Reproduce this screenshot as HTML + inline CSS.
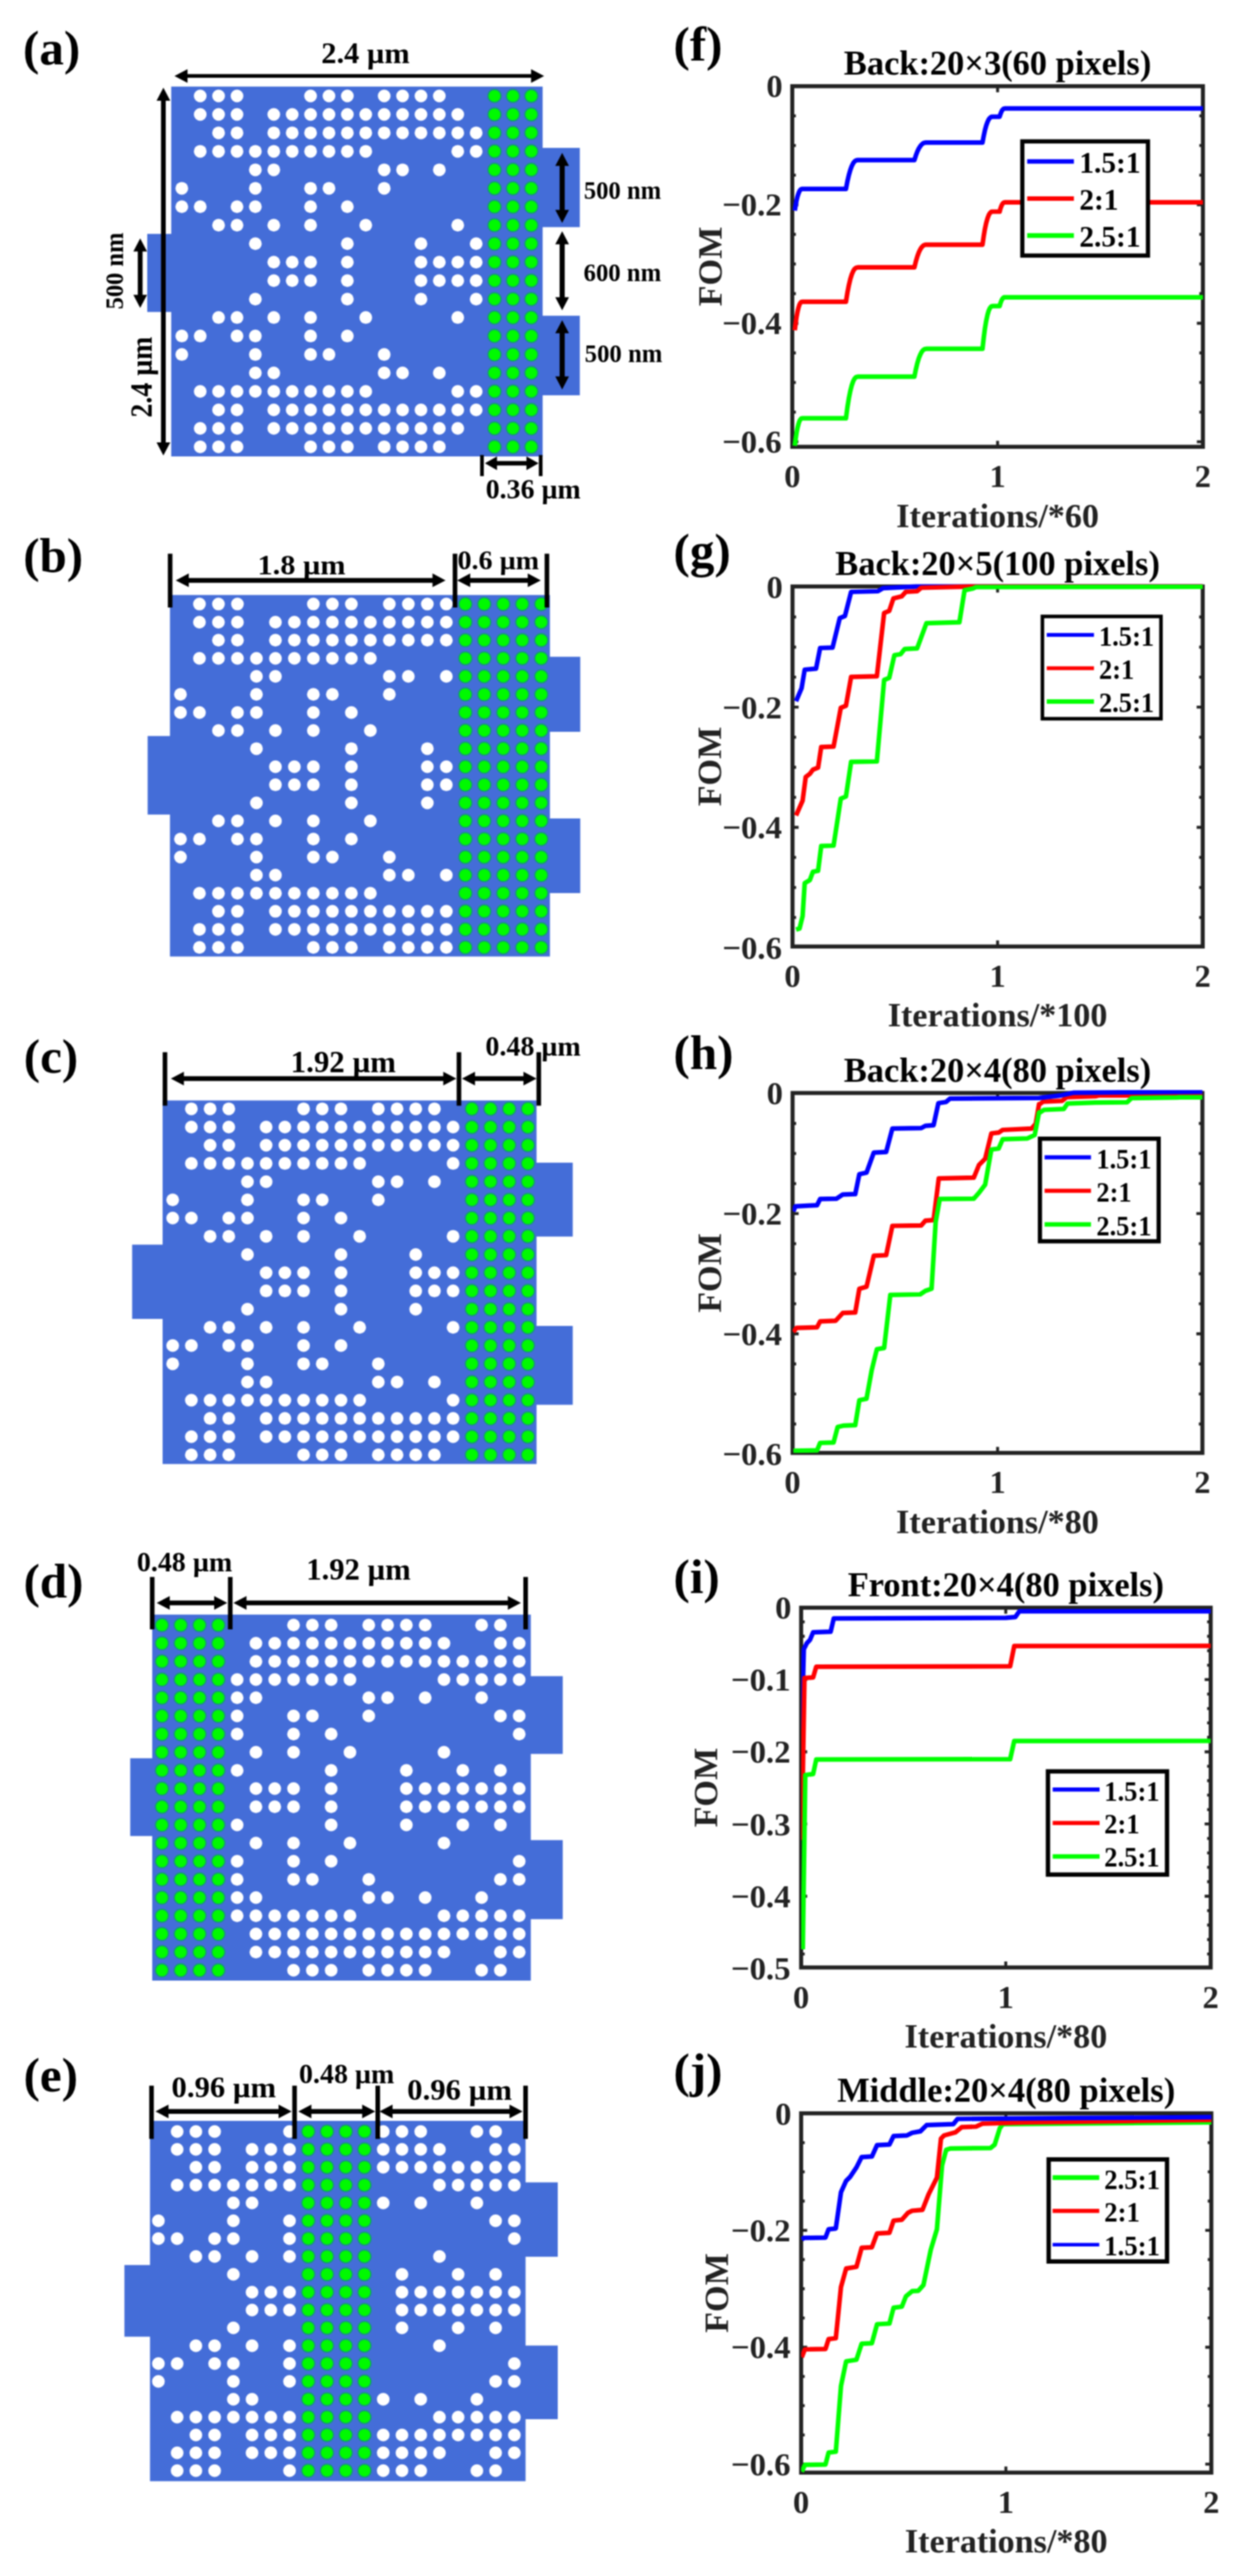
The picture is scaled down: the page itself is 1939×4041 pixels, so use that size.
<!DOCTYPE html>
<html><head><meta charset="utf-8"><title>Figure</title>
<style>
html,body{margin:0;padding:0;background:#fff;}
svg{display:block;filter:blur(0.8px);}
text{font-family:'Liberation Serif','Times New Roman',serif;font-weight:bold;}
</style></head><body>
<svg width="1939" height="4041" viewBox="0 0 1939 4041">
<rect width="1939" height="4041" fill="#fff"/>
<rect x="268.6" y="135.8" width="582.7" height="580.2" fill="#446DD8"/>
<rect x="231.0" y="366.9" width="40.0" height="122.5" fill="#446DD8"/>
<rect x="849.0" y="232.0" width="60.6" height="124.3" fill="#446DD8"/>
<rect x="849.0" y="495.3" width="60.6" height="124.8" fill="#446DD8"/>
<g fill="#fff"><circle cx="314.1" cy="150.5" r="10.0"/><circle cx="342.9" cy="150.5" r="10.0"/><circle cx="371.8" cy="150.5" r="10.0"/><circle cx="487.2" cy="150.5" r="10.0"/><circle cx="516.1" cy="150.5" r="10.0"/><circle cx="544.9" cy="150.5" r="10.0"/><circle cx="602.7" cy="150.5" r="10.0"/><circle cx="631.5" cy="150.5" r="10.0"/><circle cx="660.4" cy="150.5" r="10.0"/><circle cx="689.2" cy="150.5" r="10.0"/><circle cx="314.1" cy="179.5" r="10.0"/><circle cx="342.9" cy="179.5" r="10.0"/><circle cx="371.8" cy="179.5" r="10.0"/><circle cx="429.5" cy="179.5" r="10.0"/><circle cx="458.4" cy="179.5" r="10.0"/><circle cx="487.2" cy="179.5" r="10.0"/><circle cx="516.1" cy="179.5" r="10.0"/><circle cx="544.9" cy="179.5" r="10.0"/><circle cx="573.8" cy="179.5" r="10.0"/><circle cx="602.7" cy="179.5" r="10.0"/><circle cx="631.5" cy="179.5" r="10.0"/><circle cx="660.4" cy="179.5" r="10.0"/><circle cx="689.2" cy="179.5" r="10.0"/><circle cx="718.1" cy="179.5" r="10.0"/><circle cx="342.9" cy="208.4" r="10.0"/><circle cx="371.8" cy="208.4" r="10.0"/><circle cx="429.5" cy="208.4" r="10.0"/><circle cx="458.4" cy="208.4" r="10.0"/><circle cx="487.2" cy="208.4" r="10.0"/><circle cx="516.1" cy="208.4" r="10.0"/><circle cx="544.9" cy="208.4" r="10.0"/><circle cx="573.8" cy="208.4" r="10.0"/><circle cx="602.7" cy="208.4" r="10.0"/><circle cx="631.5" cy="208.4" r="10.0"/><circle cx="660.4" cy="208.4" r="10.0"/><circle cx="689.2" cy="208.4" r="10.0"/><circle cx="718.1" cy="208.4" r="10.0"/><circle cx="747.0" cy="208.4" r="10.0"/><circle cx="314.1" cy="237.4" r="10.0"/><circle cx="342.9" cy="237.4" r="10.0"/><circle cx="371.8" cy="237.4" r="10.0"/><circle cx="400.6" cy="237.4" r="10.0"/><circle cx="429.5" cy="237.4" r="10.0"/><circle cx="458.4" cy="237.4" r="10.0"/><circle cx="487.2" cy="237.4" r="10.0"/><circle cx="516.1" cy="237.4" r="10.0"/><circle cx="544.9" cy="237.4" r="10.0"/><circle cx="573.8" cy="237.4" r="10.0"/><circle cx="718.1" cy="237.4" r="10.0"/><circle cx="747.0" cy="237.4" r="10.0"/><circle cx="400.6" cy="266.4" r="10.0"/><circle cx="429.5" cy="266.4" r="10.0"/><circle cx="602.7" cy="266.4" r="10.0"/><circle cx="631.5" cy="266.4" r="10.0"/><circle cx="689.2" cy="266.4" r="10.0"/><circle cx="285.2" cy="295.4" r="10.0"/><circle cx="400.6" cy="295.4" r="10.0"/><circle cx="487.2" cy="295.4" r="10.0"/><circle cx="516.1" cy="295.4" r="10.0"/><circle cx="602.7" cy="295.4" r="10.0"/><circle cx="285.2" cy="324.3" r="10.0"/><circle cx="314.1" cy="324.3" r="10.0"/><circle cx="371.8" cy="324.3" r="10.0"/><circle cx="400.6" cy="324.3" r="10.0"/><circle cx="487.2" cy="324.3" r="10.0"/><circle cx="544.9" cy="324.3" r="10.0"/><circle cx="342.9" cy="353.3" r="10.0"/><circle cx="371.8" cy="353.3" r="10.0"/><circle cx="429.5" cy="353.3" r="10.0"/><circle cx="487.2" cy="353.3" r="10.0"/><circle cx="573.8" cy="353.3" r="10.0"/><circle cx="718.1" cy="353.3" r="10.0"/><circle cx="400.6" cy="382.3" r="10.0"/><circle cx="544.9" cy="382.3" r="10.0"/><circle cx="660.4" cy="382.3" r="10.0"/><circle cx="747.0" cy="382.3" r="10.0"/><circle cx="429.5" cy="411.2" r="10.0"/><circle cx="458.4" cy="411.2" r="10.0"/><circle cx="487.2" cy="411.2" r="10.0"/><circle cx="544.9" cy="411.2" r="10.0"/><circle cx="660.4" cy="411.2" r="10.0"/><circle cx="689.2" cy="411.2" r="10.0"/><circle cx="718.1" cy="411.2" r="10.0"/><circle cx="747.0" cy="411.2" r="10.0"/><circle cx="429.5" cy="440.2" r="10.0"/><circle cx="458.4" cy="440.2" r="10.0"/><circle cx="487.2" cy="440.2" r="10.0"/><circle cx="544.9" cy="440.2" r="10.0"/><circle cx="660.4" cy="440.2" r="10.0"/><circle cx="689.2" cy="440.2" r="10.0"/><circle cx="718.1" cy="440.2" r="10.0"/><circle cx="747.0" cy="440.2" r="10.0"/><circle cx="400.6" cy="469.2" r="10.0"/><circle cx="544.9" cy="469.2" r="10.0"/><circle cx="660.4" cy="469.2" r="10.0"/><circle cx="747.0" cy="469.2" r="10.0"/><circle cx="342.9" cy="498.1" r="10.0"/><circle cx="371.8" cy="498.1" r="10.0"/><circle cx="429.5" cy="498.1" r="10.0"/><circle cx="487.2" cy="498.1" r="10.0"/><circle cx="573.8" cy="498.1" r="10.0"/><circle cx="718.1" cy="498.1" r="10.0"/><circle cx="285.2" cy="527.1" r="10.0"/><circle cx="314.1" cy="527.1" r="10.0"/><circle cx="371.8" cy="527.1" r="10.0"/><circle cx="400.6" cy="527.1" r="10.0"/><circle cx="487.2" cy="527.1" r="10.0"/><circle cx="544.9" cy="527.1" r="10.0"/><circle cx="285.2" cy="556.1" r="10.0"/><circle cx="400.6" cy="556.1" r="10.0"/><circle cx="487.2" cy="556.1" r="10.0"/><circle cx="516.1" cy="556.1" r="10.0"/><circle cx="602.7" cy="556.1" r="10.0"/><circle cx="400.6" cy="585.0" r="10.0"/><circle cx="429.5" cy="585.0" r="10.0"/><circle cx="602.7" cy="585.0" r="10.0"/><circle cx="631.5" cy="585.0" r="10.0"/><circle cx="689.2" cy="585.0" r="10.0"/><circle cx="314.1" cy="614.0" r="10.0"/><circle cx="342.9" cy="614.0" r="10.0"/><circle cx="371.8" cy="614.0" r="10.0"/><circle cx="400.6" cy="614.0" r="10.0"/><circle cx="429.5" cy="614.0" r="10.0"/><circle cx="458.4" cy="614.0" r="10.0"/><circle cx="487.2" cy="614.0" r="10.0"/><circle cx="516.1" cy="614.0" r="10.0"/><circle cx="544.9" cy="614.0" r="10.0"/><circle cx="573.8" cy="614.0" r="10.0"/><circle cx="718.1" cy="614.0" r="10.0"/><circle cx="747.0" cy="614.0" r="10.0"/><circle cx="342.9" cy="643.0" r="10.0"/><circle cx="371.8" cy="643.0" r="10.0"/><circle cx="429.5" cy="643.0" r="10.0"/><circle cx="458.4" cy="643.0" r="10.0"/><circle cx="487.2" cy="643.0" r="10.0"/><circle cx="516.1" cy="643.0" r="10.0"/><circle cx="544.9" cy="643.0" r="10.0"/><circle cx="573.8" cy="643.0" r="10.0"/><circle cx="602.7" cy="643.0" r="10.0"/><circle cx="631.5" cy="643.0" r="10.0"/><circle cx="660.4" cy="643.0" r="10.0"/><circle cx="689.2" cy="643.0" r="10.0"/><circle cx="718.1" cy="643.0" r="10.0"/><circle cx="747.0" cy="643.0" r="10.0"/><circle cx="314.1" cy="672.0" r="10.0"/><circle cx="342.9" cy="672.0" r="10.0"/><circle cx="371.8" cy="672.0" r="10.0"/><circle cx="429.5" cy="672.0" r="10.0"/><circle cx="458.4" cy="672.0" r="10.0"/><circle cx="487.2" cy="672.0" r="10.0"/><circle cx="516.1" cy="672.0" r="10.0"/><circle cx="544.9" cy="672.0" r="10.0"/><circle cx="573.8" cy="672.0" r="10.0"/><circle cx="602.7" cy="672.0" r="10.0"/><circle cx="631.5" cy="672.0" r="10.0"/><circle cx="660.4" cy="672.0" r="10.0"/><circle cx="689.2" cy="672.0" r="10.0"/><circle cx="718.1" cy="672.0" r="10.0"/><circle cx="314.1" cy="700.9" r="10.0"/><circle cx="342.9" cy="700.9" r="10.0"/><circle cx="371.8" cy="700.9" r="10.0"/><circle cx="487.2" cy="700.9" r="10.0"/><circle cx="516.1" cy="700.9" r="10.0"/><circle cx="544.9" cy="700.9" r="10.0"/><circle cx="602.7" cy="700.9" r="10.0"/><circle cx="631.5" cy="700.9" r="10.0"/><circle cx="660.4" cy="700.9" r="10.0"/><circle cx="689.2" cy="700.9" r="10.0"/></g>
<g fill="#00FA00" stroke="#17947F" stroke-width="2"><circle cx="775.8" cy="150.5" r="10.3"/><circle cx="804.7" cy="150.5" r="10.3"/><circle cx="833.5" cy="150.5" r="10.3"/><circle cx="775.8" cy="179.5" r="10.3"/><circle cx="804.7" cy="179.5" r="10.3"/><circle cx="833.5" cy="179.5" r="10.3"/><circle cx="775.8" cy="208.4" r="10.3"/><circle cx="804.7" cy="208.4" r="10.3"/><circle cx="833.5" cy="208.4" r="10.3"/><circle cx="775.8" cy="237.4" r="10.3"/><circle cx="804.7" cy="237.4" r="10.3"/><circle cx="833.5" cy="237.4" r="10.3"/><circle cx="775.8" cy="266.4" r="10.3"/><circle cx="804.7" cy="266.4" r="10.3"/><circle cx="833.5" cy="266.4" r="10.3"/><circle cx="775.8" cy="295.4" r="10.3"/><circle cx="804.7" cy="295.4" r="10.3"/><circle cx="833.5" cy="295.4" r="10.3"/><circle cx="775.8" cy="324.3" r="10.3"/><circle cx="804.7" cy="324.3" r="10.3"/><circle cx="833.5" cy="324.3" r="10.3"/><circle cx="775.8" cy="353.3" r="10.3"/><circle cx="804.7" cy="353.3" r="10.3"/><circle cx="833.5" cy="353.3" r="10.3"/><circle cx="775.8" cy="382.3" r="10.3"/><circle cx="804.7" cy="382.3" r="10.3"/><circle cx="833.5" cy="382.3" r="10.3"/><circle cx="775.8" cy="411.2" r="10.3"/><circle cx="804.7" cy="411.2" r="10.3"/><circle cx="833.5" cy="411.2" r="10.3"/><circle cx="775.8" cy="440.2" r="10.3"/><circle cx="804.7" cy="440.2" r="10.3"/><circle cx="833.5" cy="440.2" r="10.3"/><circle cx="775.8" cy="469.2" r="10.3"/><circle cx="804.7" cy="469.2" r="10.3"/><circle cx="833.5" cy="469.2" r="10.3"/><circle cx="775.8" cy="498.1" r="10.3"/><circle cx="804.7" cy="498.1" r="10.3"/><circle cx="833.5" cy="498.1" r="10.3"/><circle cx="775.8" cy="527.1" r="10.3"/><circle cx="804.7" cy="527.1" r="10.3"/><circle cx="833.5" cy="527.1" r="10.3"/><circle cx="775.8" cy="556.1" r="10.3"/><circle cx="804.7" cy="556.1" r="10.3"/><circle cx="833.5" cy="556.1" r="10.3"/><circle cx="775.8" cy="585.0" r="10.3"/><circle cx="804.7" cy="585.0" r="10.3"/><circle cx="833.5" cy="585.0" r="10.3"/><circle cx="775.8" cy="614.0" r="10.3"/><circle cx="804.7" cy="614.0" r="10.3"/><circle cx="833.5" cy="614.0" r="10.3"/><circle cx="775.8" cy="643.0" r="10.3"/><circle cx="804.7" cy="643.0" r="10.3"/><circle cx="833.5" cy="643.0" r="10.3"/><circle cx="775.8" cy="672.0" r="10.3"/><circle cx="804.7" cy="672.0" r="10.3"/><circle cx="833.5" cy="672.0" r="10.3"/><circle cx="775.8" cy="700.9" r="10.3"/><circle cx="804.7" cy="700.9" r="10.3"/><circle cx="833.5" cy="700.9" r="10.3"/></g>
<text x="36.0" y="100.6" font-size="77.0">(a)</text>
<line x1="292.1" y1="119.2" x2="835.1" y2="119.2" stroke="#000" stroke-width="5.8"/>
<polygon points="273.7,119.2 294.2,129.9 294.2,108.5" fill="#000"/>
<polygon points="853.6,119.2 833.1,129.9 833.1,108.5" fill="#000"/>
<text x="504.1" y="98.5" font-size="47.0" textLength="138.7" lengthAdjust="spacingAndGlyphs">2.4 µm</text>
<line x1="256.3" y1="155.9" x2="256.3" y2="696.1" stroke="#000" stroke-width="7.4"/>
<polygon points="256.3,137.5 245.6,158.0 267.1,158.0" fill="#000"/>
<polygon points="256.3,714.6 245.6,694.1 267.1,694.1" fill="#000"/>
<line x1="219.9" y1="392.4" x2="219.9" y2="464.4" stroke="#000" stroke-width="7.5"/>
<polygon points="219.9,374.0 209.2,394.5 230.7,394.5" fill="#000"/>
<polygon points="219.9,482.9 209.2,462.4 230.7,462.4" fill="#000"/>
<text x="192.9" y="485.3" font-size="41.0" textLength="120.5" lengthAdjust="spacingAndGlyphs" transform="rotate(-90 192.9 485.3)">500 nm</text>
<text x="238.3" y="655.0" font-size="48.0" textLength="126.8" lengthAdjust="spacingAndGlyphs" transform="rotate(-90 238.3 655.0)">2.4 µm</text>
<line x1="881.9" y1="258.2" x2="881.9" y2="331.4" stroke="#000" stroke-width="8"/>
<polygon points="881.9,239.8 871.1,260.3 892.6,260.3" fill="#000"/>
<polygon points="881.9,349.8 871.1,329.3 892.6,329.3" fill="#000"/>
<line x1="881.9" y1="381.2" x2="881.9" y2="468.2" stroke="#000" stroke-width="8"/>
<polygon points="881.9,362.8 871.1,383.3 892.6,383.3" fill="#000"/>
<polygon points="881.9,486.7 871.1,466.2 892.6,466.2" fill="#000"/>
<line x1="881.9" y1="520.8" x2="881.9" y2="592.5" stroke="#000" stroke-width="8"/>
<polygon points="881.9,502.3 871.1,522.8 892.6,522.8" fill="#000"/>
<polygon points="881.9,611.0 871.1,590.5 892.6,590.5" fill="#000"/>
<text x="916.0" y="311.8" font-size="39.5" textLength="121.2" lengthAdjust="spacingAndGlyphs">500 nm</text>
<text x="915.5" y="440.9" font-size="39.5" textLength="121.7" lengthAdjust="spacingAndGlyphs">600 nm</text>
<text x="917.3" y="568.3" font-size="39.5" textLength="121.7" lengthAdjust="spacingAndGlyphs">500 nm</text>
<line x1="756.1" y1="713.8" x2="756.1" y2="746.9" stroke="#000" stroke-width="5.8"/>
<line x1="848.2" y1="713.8" x2="848.2" y2="746.9" stroke="#000" stroke-width="5.8"/>
<line x1="777.8" y1="726.7" x2="827.8" y2="726.7" stroke="#000" stroke-width="7"/>
<polygon points="760.7,726.7 779.7,737.5 779.7,716.0" fill="#000"/>
<polygon points="844.9,726.7 825.9,737.5 825.9,716.0" fill="#000"/>
<text x="762.0" y="781.9" font-size="44.0" textLength="149.0" lengthAdjust="spacingAndGlyphs">0.36 µm</text>
<rect x="266.6" y="933.4" width="596.1" height="567.1" fill="#446DD8"/>
<rect x="231.6" y="1154.6" width="37.4" height="123.2" fill="#446DD8"/>
<rect x="860.0" y="1030.3" width="50.3" height="117.7" fill="#446DD8"/>
<rect x="860.0" y="1283.9" width="50.3" height="117.1" fill="#446DD8"/>
<g fill="#fff"><circle cx="312.9" cy="947.6" r="10.0"/><circle cx="342.7" cy="947.6" r="10.0"/><circle cx="372.5" cy="947.6" r="10.0"/><circle cx="491.6" cy="947.6" r="10.0"/><circle cx="521.4" cy="947.6" r="10.0"/><circle cx="551.2" cy="947.6" r="10.0"/><circle cx="610.8" cy="947.6" r="10.0"/><circle cx="640.6" cy="947.6" r="10.0"/><circle cx="670.4" cy="947.6" r="10.0"/><circle cx="700.2" cy="947.6" r="10.0"/><circle cx="312.9" cy="976.0" r="10.0"/><circle cx="342.7" cy="976.0" r="10.0"/><circle cx="372.5" cy="976.0" r="10.0"/><circle cx="432.1" cy="976.0" r="10.0"/><circle cx="461.8" cy="976.0" r="10.0"/><circle cx="491.6" cy="976.0" r="10.0"/><circle cx="521.4" cy="976.0" r="10.0"/><circle cx="551.2" cy="976.0" r="10.0"/><circle cx="581.0" cy="976.0" r="10.0"/><circle cx="610.8" cy="976.0" r="10.0"/><circle cx="640.6" cy="976.0" r="10.0"/><circle cx="670.4" cy="976.0" r="10.0"/><circle cx="700.2" cy="976.0" r="10.0"/><circle cx="342.7" cy="1004.3" r="10.0"/><circle cx="372.5" cy="1004.3" r="10.0"/><circle cx="432.1" cy="1004.3" r="10.0"/><circle cx="461.8" cy="1004.3" r="10.0"/><circle cx="491.6" cy="1004.3" r="10.0"/><circle cx="521.4" cy="1004.3" r="10.0"/><circle cx="551.2" cy="1004.3" r="10.0"/><circle cx="581.0" cy="1004.3" r="10.0"/><circle cx="610.8" cy="1004.3" r="10.0"/><circle cx="640.6" cy="1004.3" r="10.0"/><circle cx="670.4" cy="1004.3" r="10.0"/><circle cx="700.2" cy="1004.3" r="10.0"/><circle cx="312.9" cy="1032.7" r="10.0"/><circle cx="342.7" cy="1032.7" r="10.0"/><circle cx="372.5" cy="1032.7" r="10.0"/><circle cx="402.3" cy="1032.7" r="10.0"/><circle cx="432.1" cy="1032.7" r="10.0"/><circle cx="461.8" cy="1032.7" r="10.0"/><circle cx="491.6" cy="1032.7" r="10.0"/><circle cx="521.4" cy="1032.7" r="10.0"/><circle cx="551.2" cy="1032.7" r="10.0"/><circle cx="581.0" cy="1032.7" r="10.0"/><circle cx="402.3" cy="1061.0" r="10.0"/><circle cx="432.1" cy="1061.0" r="10.0"/><circle cx="610.8" cy="1061.0" r="10.0"/><circle cx="640.6" cy="1061.0" r="10.0"/><circle cx="700.2" cy="1061.0" r="10.0"/><circle cx="283.1" cy="1089.3" r="10.0"/><circle cx="402.3" cy="1089.3" r="10.0"/><circle cx="491.6" cy="1089.3" r="10.0"/><circle cx="521.4" cy="1089.3" r="10.0"/><circle cx="610.8" cy="1089.3" r="10.0"/><circle cx="283.1" cy="1117.7" r="10.0"/><circle cx="312.9" cy="1117.7" r="10.0"/><circle cx="372.5" cy="1117.7" r="10.0"/><circle cx="402.3" cy="1117.7" r="10.0"/><circle cx="491.6" cy="1117.7" r="10.0"/><circle cx="551.2" cy="1117.7" r="10.0"/><circle cx="342.7" cy="1146.0" r="10.0"/><circle cx="372.5" cy="1146.0" r="10.0"/><circle cx="432.1" cy="1146.0" r="10.0"/><circle cx="491.6" cy="1146.0" r="10.0"/><circle cx="581.0" cy="1146.0" r="10.0"/><circle cx="402.3" cy="1174.4" r="10.0"/><circle cx="551.2" cy="1174.4" r="10.0"/><circle cx="670.4" cy="1174.4" r="10.0"/><circle cx="432.1" cy="1202.8" r="10.0"/><circle cx="461.8" cy="1202.8" r="10.0"/><circle cx="491.6" cy="1202.8" r="10.0"/><circle cx="551.2" cy="1202.8" r="10.0"/><circle cx="670.4" cy="1202.8" r="10.0"/><circle cx="700.2" cy="1202.8" r="10.0"/><circle cx="432.1" cy="1231.1" r="10.0"/><circle cx="461.8" cy="1231.1" r="10.0"/><circle cx="491.6" cy="1231.1" r="10.0"/><circle cx="551.2" cy="1231.1" r="10.0"/><circle cx="670.4" cy="1231.1" r="10.0"/><circle cx="700.2" cy="1231.1" r="10.0"/><circle cx="402.3" cy="1259.5" r="10.0"/><circle cx="551.2" cy="1259.5" r="10.0"/><circle cx="670.4" cy="1259.5" r="10.0"/><circle cx="342.7" cy="1287.8" r="10.0"/><circle cx="372.5" cy="1287.8" r="10.0"/><circle cx="432.1" cy="1287.8" r="10.0"/><circle cx="491.6" cy="1287.8" r="10.0"/><circle cx="581.0" cy="1287.8" r="10.0"/><circle cx="283.1" cy="1316.2" r="10.0"/><circle cx="312.9" cy="1316.2" r="10.0"/><circle cx="372.5" cy="1316.2" r="10.0"/><circle cx="402.3" cy="1316.2" r="10.0"/><circle cx="491.6" cy="1316.2" r="10.0"/><circle cx="551.2" cy="1316.2" r="10.0"/><circle cx="283.1" cy="1344.5" r="10.0"/><circle cx="402.3" cy="1344.5" r="10.0"/><circle cx="491.6" cy="1344.5" r="10.0"/><circle cx="521.4" cy="1344.5" r="10.0"/><circle cx="610.8" cy="1344.5" r="10.0"/><circle cx="402.3" cy="1372.8" r="10.0"/><circle cx="432.1" cy="1372.8" r="10.0"/><circle cx="610.8" cy="1372.8" r="10.0"/><circle cx="640.6" cy="1372.8" r="10.0"/><circle cx="700.2" cy="1372.8" r="10.0"/><circle cx="312.9" cy="1401.2" r="10.0"/><circle cx="342.7" cy="1401.2" r="10.0"/><circle cx="372.5" cy="1401.2" r="10.0"/><circle cx="402.3" cy="1401.2" r="10.0"/><circle cx="432.1" cy="1401.2" r="10.0"/><circle cx="461.8" cy="1401.2" r="10.0"/><circle cx="491.6" cy="1401.2" r="10.0"/><circle cx="521.4" cy="1401.2" r="10.0"/><circle cx="551.2" cy="1401.2" r="10.0"/><circle cx="581.0" cy="1401.2" r="10.0"/><circle cx="342.7" cy="1429.6" r="10.0"/><circle cx="372.5" cy="1429.6" r="10.0"/><circle cx="432.1" cy="1429.6" r="10.0"/><circle cx="461.8" cy="1429.6" r="10.0"/><circle cx="491.6" cy="1429.6" r="10.0"/><circle cx="521.4" cy="1429.6" r="10.0"/><circle cx="551.2" cy="1429.6" r="10.0"/><circle cx="581.0" cy="1429.6" r="10.0"/><circle cx="610.8" cy="1429.6" r="10.0"/><circle cx="640.6" cy="1429.6" r="10.0"/><circle cx="670.4" cy="1429.6" r="10.0"/><circle cx="700.2" cy="1429.6" r="10.0"/><circle cx="312.9" cy="1457.9" r="10.0"/><circle cx="342.7" cy="1457.9" r="10.0"/><circle cx="372.5" cy="1457.9" r="10.0"/><circle cx="432.1" cy="1457.9" r="10.0"/><circle cx="461.8" cy="1457.9" r="10.0"/><circle cx="491.6" cy="1457.9" r="10.0"/><circle cx="521.4" cy="1457.9" r="10.0"/><circle cx="551.2" cy="1457.9" r="10.0"/><circle cx="581.0" cy="1457.9" r="10.0"/><circle cx="610.8" cy="1457.9" r="10.0"/><circle cx="640.6" cy="1457.9" r="10.0"/><circle cx="670.4" cy="1457.9" r="10.0"/><circle cx="700.2" cy="1457.9" r="10.0"/><circle cx="312.9" cy="1486.2" r="10.0"/><circle cx="342.7" cy="1486.2" r="10.0"/><circle cx="372.5" cy="1486.2" r="10.0"/><circle cx="491.6" cy="1486.2" r="10.0"/><circle cx="521.4" cy="1486.2" r="10.0"/><circle cx="551.2" cy="1486.2" r="10.0"/><circle cx="610.8" cy="1486.2" r="10.0"/><circle cx="640.6" cy="1486.2" r="10.0"/><circle cx="670.4" cy="1486.2" r="10.0"/><circle cx="700.2" cy="1486.2" r="10.0"/></g>
<g fill="#00FA00" stroke="#17947F" stroke-width="2"><circle cx="730.0" cy="947.6" r="10.3"/><circle cx="759.7" cy="947.6" r="10.3"/><circle cx="789.5" cy="947.6" r="10.3"/><circle cx="819.3" cy="947.6" r="10.3"/><circle cx="849.1" cy="947.6" r="10.3"/><circle cx="730.0" cy="976.0" r="10.3"/><circle cx="759.7" cy="976.0" r="10.3"/><circle cx="789.5" cy="976.0" r="10.3"/><circle cx="819.3" cy="976.0" r="10.3"/><circle cx="849.1" cy="976.0" r="10.3"/><circle cx="730.0" cy="1004.3" r="10.3"/><circle cx="759.7" cy="1004.3" r="10.3"/><circle cx="789.5" cy="1004.3" r="10.3"/><circle cx="819.3" cy="1004.3" r="10.3"/><circle cx="849.1" cy="1004.3" r="10.3"/><circle cx="730.0" cy="1032.7" r="10.3"/><circle cx="759.7" cy="1032.7" r="10.3"/><circle cx="789.5" cy="1032.7" r="10.3"/><circle cx="819.3" cy="1032.7" r="10.3"/><circle cx="849.1" cy="1032.7" r="10.3"/><circle cx="730.0" cy="1061.0" r="10.3"/><circle cx="759.7" cy="1061.0" r="10.3"/><circle cx="789.5" cy="1061.0" r="10.3"/><circle cx="819.3" cy="1061.0" r="10.3"/><circle cx="849.1" cy="1061.0" r="10.3"/><circle cx="730.0" cy="1089.3" r="10.3"/><circle cx="759.7" cy="1089.3" r="10.3"/><circle cx="789.5" cy="1089.3" r="10.3"/><circle cx="819.3" cy="1089.3" r="10.3"/><circle cx="849.1" cy="1089.3" r="10.3"/><circle cx="730.0" cy="1117.7" r="10.3"/><circle cx="759.7" cy="1117.7" r="10.3"/><circle cx="789.5" cy="1117.7" r="10.3"/><circle cx="819.3" cy="1117.7" r="10.3"/><circle cx="849.1" cy="1117.7" r="10.3"/><circle cx="730.0" cy="1146.0" r="10.3"/><circle cx="759.7" cy="1146.0" r="10.3"/><circle cx="789.5" cy="1146.0" r="10.3"/><circle cx="819.3" cy="1146.0" r="10.3"/><circle cx="849.1" cy="1146.0" r="10.3"/><circle cx="730.0" cy="1174.4" r="10.3"/><circle cx="759.7" cy="1174.4" r="10.3"/><circle cx="789.5" cy="1174.4" r="10.3"/><circle cx="819.3" cy="1174.4" r="10.3"/><circle cx="849.1" cy="1174.4" r="10.3"/><circle cx="730.0" cy="1202.8" r="10.3"/><circle cx="759.7" cy="1202.8" r="10.3"/><circle cx="789.5" cy="1202.8" r="10.3"/><circle cx="819.3" cy="1202.8" r="10.3"/><circle cx="849.1" cy="1202.8" r="10.3"/><circle cx="730.0" cy="1231.1" r="10.3"/><circle cx="759.7" cy="1231.1" r="10.3"/><circle cx="789.5" cy="1231.1" r="10.3"/><circle cx="819.3" cy="1231.1" r="10.3"/><circle cx="849.1" cy="1231.1" r="10.3"/><circle cx="730.0" cy="1259.5" r="10.3"/><circle cx="759.7" cy="1259.5" r="10.3"/><circle cx="789.5" cy="1259.5" r="10.3"/><circle cx="819.3" cy="1259.5" r="10.3"/><circle cx="849.1" cy="1259.5" r="10.3"/><circle cx="730.0" cy="1287.8" r="10.3"/><circle cx="759.7" cy="1287.8" r="10.3"/><circle cx="789.5" cy="1287.8" r="10.3"/><circle cx="819.3" cy="1287.8" r="10.3"/><circle cx="849.1" cy="1287.8" r="10.3"/><circle cx="730.0" cy="1316.2" r="10.3"/><circle cx="759.7" cy="1316.2" r="10.3"/><circle cx="789.5" cy="1316.2" r="10.3"/><circle cx="819.3" cy="1316.2" r="10.3"/><circle cx="849.1" cy="1316.2" r="10.3"/><circle cx="730.0" cy="1344.5" r="10.3"/><circle cx="759.7" cy="1344.5" r="10.3"/><circle cx="789.5" cy="1344.5" r="10.3"/><circle cx="819.3" cy="1344.5" r="10.3"/><circle cx="849.1" cy="1344.5" r="10.3"/><circle cx="730.0" cy="1372.8" r="10.3"/><circle cx="759.7" cy="1372.8" r="10.3"/><circle cx="789.5" cy="1372.8" r="10.3"/><circle cx="819.3" cy="1372.8" r="10.3"/><circle cx="849.1" cy="1372.8" r="10.3"/><circle cx="730.0" cy="1401.2" r="10.3"/><circle cx="759.7" cy="1401.2" r="10.3"/><circle cx="789.5" cy="1401.2" r="10.3"/><circle cx="819.3" cy="1401.2" r="10.3"/><circle cx="849.1" cy="1401.2" r="10.3"/><circle cx="730.0" cy="1429.6" r="10.3"/><circle cx="759.7" cy="1429.6" r="10.3"/><circle cx="789.5" cy="1429.6" r="10.3"/><circle cx="819.3" cy="1429.6" r="10.3"/><circle cx="849.1" cy="1429.6" r="10.3"/><circle cx="730.0" cy="1457.9" r="10.3"/><circle cx="759.7" cy="1457.9" r="10.3"/><circle cx="789.5" cy="1457.9" r="10.3"/><circle cx="819.3" cy="1457.9" r="10.3"/><circle cx="849.1" cy="1457.9" r="10.3"/><circle cx="730.0" cy="1486.2" r="10.3"/><circle cx="759.7" cy="1486.2" r="10.3"/><circle cx="789.5" cy="1486.2" r="10.3"/><circle cx="819.3" cy="1486.2" r="10.3"/><circle cx="849.1" cy="1486.2" r="10.3"/></g>
<text x="36.4" y="897.3" font-size="77.0">(b)</text>
<line x1="266.9" y1="868.6" x2="266.9" y2="953.0" stroke="#000" stroke-width="7.2"/>
<line x1="713.8" y1="868.6" x2="713.8" y2="953.0" stroke="#000" stroke-width="7.2"/>
<line x1="858.0" y1="868.6" x2="858.0" y2="953.0" stroke="#000" stroke-width="7.2"/>
<line x1="294.1" y1="910.4" x2="680.5" y2="910.4" stroke="#000" stroke-width="7.5"/>
<polygon points="275.7,910.4 296.2,921.1 296.2,899.6" fill="#000"/>
<polygon points="699.0,910.4 678.5,921.1 678.5,899.6" fill="#000"/>
<line x1="735.7" y1="910.4" x2="829.9" y2="910.4" stroke="#000" stroke-width="7.5"/>
<polygon points="717.2,910.4 737.7,921.1 737.7,899.6" fill="#000"/>
<polygon points="848.4,910.4 827.9,921.1 827.9,899.6" fill="#000"/>
<text x="404.1" y="900.5" font-size="45.0" textLength="138.0" lengthAdjust="spacingAndGlyphs">1.8 µm</text>
<text x="717.7" y="892.7" font-size="43.0" textLength="128.0" lengthAdjust="spacingAndGlyphs">0.6 µm</text>
<rect x="255.1" y="1726.3" width="586.6" height="570.3" fill="#446DD8"/>
<rect x="207.3" y="1952.5" width="50.7" height="116.5" fill="#446DD8"/>
<rect x="839.0" y="1823.9" width="59.5" height="115.9" fill="#446DD8"/>
<rect x="839.0" y="2080.0" width="59.5" height="123.7" fill="#446DD8"/>
<g fill="#fff"><circle cx="300.2" cy="1739.4" r="10.0"/><circle cx="329.6" cy="1739.4" r="10.0"/><circle cx="358.9" cy="1739.4" r="10.0"/><circle cx="476.2" cy="1739.4" r="10.0"/><circle cx="505.5" cy="1739.4" r="10.0"/><circle cx="534.9" cy="1739.4" r="10.0"/><circle cx="593.5" cy="1739.4" r="10.0"/><circle cx="622.9" cy="1739.4" r="10.0"/><circle cx="652.2" cy="1739.4" r="10.0"/><circle cx="681.5" cy="1739.4" r="10.0"/><circle cx="300.2" cy="1768.0" r="10.0"/><circle cx="329.6" cy="1768.0" r="10.0"/><circle cx="358.9" cy="1768.0" r="10.0"/><circle cx="417.5" cy="1768.0" r="10.0"/><circle cx="446.9" cy="1768.0" r="10.0"/><circle cx="476.2" cy="1768.0" r="10.0"/><circle cx="505.5" cy="1768.0" r="10.0"/><circle cx="534.9" cy="1768.0" r="10.0"/><circle cx="564.2" cy="1768.0" r="10.0"/><circle cx="593.5" cy="1768.0" r="10.0"/><circle cx="622.9" cy="1768.0" r="10.0"/><circle cx="652.2" cy="1768.0" r="10.0"/><circle cx="681.5" cy="1768.0" r="10.0"/><circle cx="710.8" cy="1768.0" r="10.0"/><circle cx="329.6" cy="1796.5" r="10.0"/><circle cx="358.9" cy="1796.5" r="10.0"/><circle cx="417.5" cy="1796.5" r="10.0"/><circle cx="446.9" cy="1796.5" r="10.0"/><circle cx="476.2" cy="1796.5" r="10.0"/><circle cx="505.5" cy="1796.5" r="10.0"/><circle cx="534.9" cy="1796.5" r="10.0"/><circle cx="564.2" cy="1796.5" r="10.0"/><circle cx="593.5" cy="1796.5" r="10.0"/><circle cx="622.9" cy="1796.5" r="10.0"/><circle cx="652.2" cy="1796.5" r="10.0"/><circle cx="681.5" cy="1796.5" r="10.0"/><circle cx="710.8" cy="1796.5" r="10.0"/><circle cx="300.2" cy="1825.1" r="10.0"/><circle cx="329.6" cy="1825.1" r="10.0"/><circle cx="358.9" cy="1825.1" r="10.0"/><circle cx="388.2" cy="1825.1" r="10.0"/><circle cx="417.5" cy="1825.1" r="10.0"/><circle cx="446.9" cy="1825.1" r="10.0"/><circle cx="476.2" cy="1825.1" r="10.0"/><circle cx="505.5" cy="1825.1" r="10.0"/><circle cx="534.9" cy="1825.1" r="10.0"/><circle cx="564.2" cy="1825.1" r="10.0"/><circle cx="710.8" cy="1825.1" r="10.0"/><circle cx="388.2" cy="1853.7" r="10.0"/><circle cx="417.5" cy="1853.7" r="10.0"/><circle cx="593.5" cy="1853.7" r="10.0"/><circle cx="622.9" cy="1853.7" r="10.0"/><circle cx="681.5" cy="1853.7" r="10.0"/><circle cx="270.9" cy="1882.2" r="10.0"/><circle cx="388.2" cy="1882.2" r="10.0"/><circle cx="476.2" cy="1882.2" r="10.0"/><circle cx="505.5" cy="1882.2" r="10.0"/><circle cx="593.5" cy="1882.2" r="10.0"/><circle cx="270.9" cy="1910.8" r="10.0"/><circle cx="300.2" cy="1910.8" r="10.0"/><circle cx="358.9" cy="1910.8" r="10.0"/><circle cx="388.2" cy="1910.8" r="10.0"/><circle cx="476.2" cy="1910.8" r="10.0"/><circle cx="534.9" cy="1910.8" r="10.0"/><circle cx="329.6" cy="1939.4" r="10.0"/><circle cx="358.9" cy="1939.4" r="10.0"/><circle cx="417.5" cy="1939.4" r="10.0"/><circle cx="476.2" cy="1939.4" r="10.0"/><circle cx="564.2" cy="1939.4" r="10.0"/><circle cx="710.8" cy="1939.4" r="10.0"/><circle cx="388.2" cy="1968.0" r="10.0"/><circle cx="534.9" cy="1968.0" r="10.0"/><circle cx="652.2" cy="1968.0" r="10.0"/><circle cx="417.5" cy="1996.5" r="10.0"/><circle cx="446.9" cy="1996.5" r="10.0"/><circle cx="476.2" cy="1996.5" r="10.0"/><circle cx="534.9" cy="1996.5" r="10.0"/><circle cx="652.2" cy="1996.5" r="10.0"/><circle cx="681.5" cy="1996.5" r="10.0"/><circle cx="710.8" cy="1996.5" r="10.0"/><circle cx="417.5" cy="2025.1" r="10.0"/><circle cx="446.9" cy="2025.1" r="10.0"/><circle cx="476.2" cy="2025.1" r="10.0"/><circle cx="534.9" cy="2025.1" r="10.0"/><circle cx="652.2" cy="2025.1" r="10.0"/><circle cx="681.5" cy="2025.1" r="10.0"/><circle cx="710.8" cy="2025.1" r="10.0"/><circle cx="388.2" cy="2053.7" r="10.0"/><circle cx="534.9" cy="2053.7" r="10.0"/><circle cx="652.2" cy="2053.7" r="10.0"/><circle cx="329.6" cy="2082.2" r="10.0"/><circle cx="358.9" cy="2082.2" r="10.0"/><circle cx="417.5" cy="2082.2" r="10.0"/><circle cx="476.2" cy="2082.2" r="10.0"/><circle cx="564.2" cy="2082.2" r="10.0"/><circle cx="710.8" cy="2082.2" r="10.0"/><circle cx="270.9" cy="2110.8" r="10.0"/><circle cx="300.2" cy="2110.8" r="10.0"/><circle cx="358.9" cy="2110.8" r="10.0"/><circle cx="388.2" cy="2110.8" r="10.0"/><circle cx="476.2" cy="2110.8" r="10.0"/><circle cx="534.9" cy="2110.8" r="10.0"/><circle cx="270.9" cy="2139.4" r="10.0"/><circle cx="388.2" cy="2139.4" r="10.0"/><circle cx="476.2" cy="2139.4" r="10.0"/><circle cx="505.5" cy="2139.4" r="10.0"/><circle cx="593.5" cy="2139.4" r="10.0"/><circle cx="388.2" cy="2168.0" r="10.0"/><circle cx="417.5" cy="2168.0" r="10.0"/><circle cx="593.5" cy="2168.0" r="10.0"/><circle cx="622.9" cy="2168.0" r="10.0"/><circle cx="681.5" cy="2168.0" r="10.0"/><circle cx="300.2" cy="2196.5" r="10.0"/><circle cx="329.6" cy="2196.5" r="10.0"/><circle cx="358.9" cy="2196.5" r="10.0"/><circle cx="388.2" cy="2196.5" r="10.0"/><circle cx="417.5" cy="2196.5" r="10.0"/><circle cx="446.9" cy="2196.5" r="10.0"/><circle cx="476.2" cy="2196.5" r="10.0"/><circle cx="505.5" cy="2196.5" r="10.0"/><circle cx="534.9" cy="2196.5" r="10.0"/><circle cx="564.2" cy="2196.5" r="10.0"/><circle cx="710.8" cy="2196.5" r="10.0"/><circle cx="329.6" cy="2225.1" r="10.0"/><circle cx="358.9" cy="2225.1" r="10.0"/><circle cx="417.5" cy="2225.1" r="10.0"/><circle cx="446.9" cy="2225.1" r="10.0"/><circle cx="476.2" cy="2225.1" r="10.0"/><circle cx="505.5" cy="2225.1" r="10.0"/><circle cx="534.9" cy="2225.1" r="10.0"/><circle cx="564.2" cy="2225.1" r="10.0"/><circle cx="593.5" cy="2225.1" r="10.0"/><circle cx="622.9" cy="2225.1" r="10.0"/><circle cx="652.2" cy="2225.1" r="10.0"/><circle cx="681.5" cy="2225.1" r="10.0"/><circle cx="710.8" cy="2225.1" r="10.0"/><circle cx="300.2" cy="2253.7" r="10.0"/><circle cx="329.6" cy="2253.7" r="10.0"/><circle cx="358.9" cy="2253.7" r="10.0"/><circle cx="417.5" cy="2253.7" r="10.0"/><circle cx="446.9" cy="2253.7" r="10.0"/><circle cx="476.2" cy="2253.7" r="10.0"/><circle cx="505.5" cy="2253.7" r="10.0"/><circle cx="534.9" cy="2253.7" r="10.0"/><circle cx="564.2" cy="2253.7" r="10.0"/><circle cx="593.5" cy="2253.7" r="10.0"/><circle cx="622.9" cy="2253.7" r="10.0"/><circle cx="652.2" cy="2253.7" r="10.0"/><circle cx="681.5" cy="2253.7" r="10.0"/><circle cx="710.8" cy="2253.7" r="10.0"/><circle cx="300.2" cy="2282.2" r="10.0"/><circle cx="329.6" cy="2282.2" r="10.0"/><circle cx="358.9" cy="2282.2" r="10.0"/><circle cx="476.2" cy="2282.2" r="10.0"/><circle cx="505.5" cy="2282.2" r="10.0"/><circle cx="534.9" cy="2282.2" r="10.0"/><circle cx="593.5" cy="2282.2" r="10.0"/><circle cx="622.9" cy="2282.2" r="10.0"/><circle cx="652.2" cy="2282.2" r="10.0"/><circle cx="681.5" cy="2282.2" r="10.0"/></g>
<g fill="#00FA00" stroke="#17947F" stroke-width="2"><circle cx="740.2" cy="1739.4" r="10.3"/><circle cx="769.5" cy="1739.4" r="10.3"/><circle cx="798.8" cy="1739.4" r="10.3"/><circle cx="828.2" cy="1739.4" r="10.3"/><circle cx="740.2" cy="1768.0" r="10.3"/><circle cx="769.5" cy="1768.0" r="10.3"/><circle cx="798.8" cy="1768.0" r="10.3"/><circle cx="828.2" cy="1768.0" r="10.3"/><circle cx="740.2" cy="1796.5" r="10.3"/><circle cx="769.5" cy="1796.5" r="10.3"/><circle cx="798.8" cy="1796.5" r="10.3"/><circle cx="828.2" cy="1796.5" r="10.3"/><circle cx="740.2" cy="1825.1" r="10.3"/><circle cx="769.5" cy="1825.1" r="10.3"/><circle cx="798.8" cy="1825.1" r="10.3"/><circle cx="828.2" cy="1825.1" r="10.3"/><circle cx="740.2" cy="1853.7" r="10.3"/><circle cx="769.5" cy="1853.7" r="10.3"/><circle cx="798.8" cy="1853.7" r="10.3"/><circle cx="828.2" cy="1853.7" r="10.3"/><circle cx="740.2" cy="1882.2" r="10.3"/><circle cx="769.5" cy="1882.2" r="10.3"/><circle cx="798.8" cy="1882.2" r="10.3"/><circle cx="828.2" cy="1882.2" r="10.3"/><circle cx="740.2" cy="1910.8" r="10.3"/><circle cx="769.5" cy="1910.8" r="10.3"/><circle cx="798.8" cy="1910.8" r="10.3"/><circle cx="828.2" cy="1910.8" r="10.3"/><circle cx="740.2" cy="1939.4" r="10.3"/><circle cx="769.5" cy="1939.4" r="10.3"/><circle cx="798.8" cy="1939.4" r="10.3"/><circle cx="828.2" cy="1939.4" r="10.3"/><circle cx="740.2" cy="1968.0" r="10.3"/><circle cx="769.5" cy="1968.0" r="10.3"/><circle cx="798.8" cy="1968.0" r="10.3"/><circle cx="828.2" cy="1968.0" r="10.3"/><circle cx="740.2" cy="1996.5" r="10.3"/><circle cx="769.5" cy="1996.5" r="10.3"/><circle cx="798.8" cy="1996.5" r="10.3"/><circle cx="828.2" cy="1996.5" r="10.3"/><circle cx="740.2" cy="2025.1" r="10.3"/><circle cx="769.5" cy="2025.1" r="10.3"/><circle cx="798.8" cy="2025.1" r="10.3"/><circle cx="828.2" cy="2025.1" r="10.3"/><circle cx="740.2" cy="2053.7" r="10.3"/><circle cx="769.5" cy="2053.7" r="10.3"/><circle cx="798.8" cy="2053.7" r="10.3"/><circle cx="828.2" cy="2053.7" r="10.3"/><circle cx="740.2" cy="2082.2" r="10.3"/><circle cx="769.5" cy="2082.2" r="10.3"/><circle cx="798.8" cy="2082.2" r="10.3"/><circle cx="828.2" cy="2082.2" r="10.3"/><circle cx="740.2" cy="2110.8" r="10.3"/><circle cx="769.5" cy="2110.8" r="10.3"/><circle cx="798.8" cy="2110.8" r="10.3"/><circle cx="828.2" cy="2110.8" r="10.3"/><circle cx="740.2" cy="2139.4" r="10.3"/><circle cx="769.5" cy="2139.4" r="10.3"/><circle cx="798.8" cy="2139.4" r="10.3"/><circle cx="828.2" cy="2139.4" r="10.3"/><circle cx="740.2" cy="2168.0" r="10.3"/><circle cx="769.5" cy="2168.0" r="10.3"/><circle cx="798.8" cy="2168.0" r="10.3"/><circle cx="828.2" cy="2168.0" r="10.3"/><circle cx="740.2" cy="2196.5" r="10.3"/><circle cx="769.5" cy="2196.5" r="10.3"/><circle cx="798.8" cy="2196.5" r="10.3"/><circle cx="828.2" cy="2196.5" r="10.3"/><circle cx="740.2" cy="2225.1" r="10.3"/><circle cx="769.5" cy="2225.1" r="10.3"/><circle cx="798.8" cy="2225.1" r="10.3"/><circle cx="828.2" cy="2225.1" r="10.3"/><circle cx="740.2" cy="2253.7" r="10.3"/><circle cx="769.5" cy="2253.7" r="10.3"/><circle cx="798.8" cy="2253.7" r="10.3"/><circle cx="828.2" cy="2253.7" r="10.3"/><circle cx="740.2" cy="2282.2" r="10.3"/><circle cx="769.5" cy="2282.2" r="10.3"/><circle cx="798.8" cy="2282.2" r="10.3"/><circle cx="828.2" cy="2282.2" r="10.3"/></g>
<text x="37.3" y="1683.0" font-size="77.0">(c)</text>
<line x1="258.8" y1="1650.6" x2="258.8" y2="1734.5" stroke="#000" stroke-width="7.2"/>
<line x1="720.0" y1="1650.6" x2="720.0" y2="1734.5" stroke="#000" stroke-width="7.2"/>
<line x1="845.2" y1="1650.6" x2="845.2" y2="1734.5" stroke="#000" stroke-width="7.2"/>
<line x1="286.4" y1="1692.0" x2="697.4" y2="1692.0" stroke="#000" stroke-width="7.5"/>
<polygon points="268.0,1692.0 288.5,1702.8 288.5,1681.2" fill="#000"/>
<polygon points="715.9,1692.0 695.4,1702.8 695.4,1681.2" fill="#000"/>
<line x1="743.2" y1="1692.0" x2="823.2" y2="1692.0" stroke="#000" stroke-width="7.5"/>
<polygon points="724.7,1692.0 745.2,1702.8 745.2,1681.2" fill="#000"/>
<polygon points="841.7,1692.0 821.2,1702.8 821.2,1681.2" fill="#000"/>
<text x="456.1" y="1681.7" font-size="48.0" textLength="165.0" lengthAdjust="spacingAndGlyphs">1.92 µm</text>
<text x="761.6" y="1656.4" font-size="44.0" textLength="149.5" lengthAdjust="spacingAndGlyphs">0.48 µm</text>
<rect x="238.8" y="2532.8" width="593.9" height="574.2" fill="#446DD8"/>
<rect x="204.3" y="2758.2" width="37.7" height="122.0" fill="#446DD8"/>
<rect x="830.0" y="2629.4" width="52.8" height="122.0" fill="#446DD8"/>
<rect x="830.0" y="2886.6" width="52.8" height="124.0" fill="#446DD8"/>
<g fill="#fff"><circle cx="460.5" cy="2549.3" r="10.0"/><circle cx="490.0" cy="2549.3" r="10.0"/><circle cx="519.5" cy="2549.3" r="10.0"/><circle cx="578.5" cy="2549.3" r="10.0"/><circle cx="608.0" cy="2549.3" r="10.0"/><circle cx="637.5" cy="2549.3" r="10.0"/><circle cx="667.0" cy="2549.3" r="10.0"/><circle cx="755.5" cy="2549.3" r="10.0"/><circle cx="785.0" cy="2549.3" r="10.0"/><circle cx="401.5" cy="2577.8" r="10.0"/><circle cx="431.0" cy="2577.8" r="10.0"/><circle cx="460.5" cy="2577.8" r="10.0"/><circle cx="490.0" cy="2577.8" r="10.0"/><circle cx="519.5" cy="2577.8" r="10.0"/><circle cx="549.0" cy="2577.8" r="10.0"/><circle cx="578.5" cy="2577.8" r="10.0"/><circle cx="608.0" cy="2577.8" r="10.0"/><circle cx="637.5" cy="2577.8" r="10.0"/><circle cx="667.0" cy="2577.8" r="10.0"/><circle cx="696.5" cy="2577.8" r="10.0"/><circle cx="785.0" cy="2577.8" r="10.0"/><circle cx="814.5" cy="2577.8" r="10.0"/><circle cx="401.5" cy="2606.3" r="10.0"/><circle cx="431.0" cy="2606.3" r="10.0"/><circle cx="460.5" cy="2606.3" r="10.0"/><circle cx="490.0" cy="2606.3" r="10.0"/><circle cx="519.5" cy="2606.3" r="10.0"/><circle cx="549.0" cy="2606.3" r="10.0"/><circle cx="578.5" cy="2606.3" r="10.0"/><circle cx="608.0" cy="2606.3" r="10.0"/><circle cx="637.5" cy="2606.3" r="10.0"/><circle cx="667.0" cy="2606.3" r="10.0"/><circle cx="696.5" cy="2606.3" r="10.0"/><circle cx="726.0" cy="2606.3" r="10.0"/><circle cx="755.5" cy="2606.3" r="10.0"/><circle cx="785.0" cy="2606.3" r="10.0"/><circle cx="814.5" cy="2606.3" r="10.0"/><circle cx="372.0" cy="2634.8" r="10.0"/><circle cx="401.5" cy="2634.8" r="10.0"/><circle cx="431.0" cy="2634.8" r="10.0"/><circle cx="460.5" cy="2634.8" r="10.0"/><circle cx="490.0" cy="2634.8" r="10.0"/><circle cx="519.5" cy="2634.8" r="10.0"/><circle cx="549.0" cy="2634.8" r="10.0"/><circle cx="696.5" cy="2634.8" r="10.0"/><circle cx="726.0" cy="2634.8" r="10.0"/><circle cx="755.5" cy="2634.8" r="10.0"/><circle cx="785.0" cy="2634.8" r="10.0"/><circle cx="814.5" cy="2634.8" r="10.0"/><circle cx="372.0" cy="2663.3" r="10.0"/><circle cx="401.5" cy="2663.3" r="10.0"/><circle cx="578.5" cy="2663.3" r="10.0"/><circle cx="608.0" cy="2663.3" r="10.0"/><circle cx="667.0" cy="2663.3" r="10.0"/><circle cx="755.5" cy="2663.3" r="10.0"/><circle cx="372.0" cy="2691.8" r="10.0"/><circle cx="460.5" cy="2691.8" r="10.0"/><circle cx="490.0" cy="2691.8" r="10.0"/><circle cx="578.5" cy="2691.8" r="10.0"/><circle cx="785.0" cy="2691.8" r="10.0"/><circle cx="814.5" cy="2691.8" r="10.0"/><circle cx="372.0" cy="2720.3" r="10.0"/><circle cx="460.5" cy="2720.3" r="10.0"/><circle cx="519.5" cy="2720.3" r="10.0"/><circle cx="814.5" cy="2720.3" r="10.0"/><circle cx="401.5" cy="2748.8" r="10.0"/><circle cx="460.5" cy="2748.8" r="10.0"/><circle cx="549.0" cy="2748.8" r="10.0"/><circle cx="696.5" cy="2748.8" r="10.0"/><circle cx="372.0" cy="2777.3" r="10.0"/><circle cx="519.5" cy="2777.3" r="10.0"/><circle cx="637.5" cy="2777.3" r="10.0"/><circle cx="726.0" cy="2777.3" r="10.0"/><circle cx="785.0" cy="2777.3" r="10.0"/><circle cx="401.5" cy="2805.8" r="10.0"/><circle cx="431.0" cy="2805.8" r="10.0"/><circle cx="460.5" cy="2805.8" r="10.0"/><circle cx="519.5" cy="2805.8" r="10.0"/><circle cx="637.5" cy="2805.8" r="10.0"/><circle cx="667.0" cy="2805.8" r="10.0"/><circle cx="696.5" cy="2805.8" r="10.0"/><circle cx="726.0" cy="2805.8" r="10.0"/><circle cx="755.5" cy="2805.8" r="10.0"/><circle cx="785.0" cy="2805.8" r="10.0"/><circle cx="814.5" cy="2805.8" r="10.0"/><circle cx="401.5" cy="2834.3" r="10.0"/><circle cx="431.0" cy="2834.3" r="10.0"/><circle cx="460.5" cy="2834.3" r="10.0"/><circle cx="519.5" cy="2834.3" r="10.0"/><circle cx="637.5" cy="2834.3" r="10.0"/><circle cx="667.0" cy="2834.3" r="10.0"/><circle cx="696.5" cy="2834.3" r="10.0"/><circle cx="726.0" cy="2834.3" r="10.0"/><circle cx="755.5" cy="2834.3" r="10.0"/><circle cx="785.0" cy="2834.3" r="10.0"/><circle cx="814.5" cy="2834.3" r="10.0"/><circle cx="372.0" cy="2862.8" r="10.0"/><circle cx="519.5" cy="2862.8" r="10.0"/><circle cx="637.5" cy="2862.8" r="10.0"/><circle cx="726.0" cy="2862.8" r="10.0"/><circle cx="785.0" cy="2862.8" r="10.0"/><circle cx="401.5" cy="2891.3" r="10.0"/><circle cx="460.5" cy="2891.3" r="10.0"/><circle cx="549.0" cy="2891.3" r="10.0"/><circle cx="696.5" cy="2891.3" r="10.0"/><circle cx="372.0" cy="2919.8" r="10.0"/><circle cx="460.5" cy="2919.8" r="10.0"/><circle cx="519.5" cy="2919.8" r="10.0"/><circle cx="814.5" cy="2919.8" r="10.0"/><circle cx="372.0" cy="2948.3" r="10.0"/><circle cx="460.5" cy="2948.3" r="10.0"/><circle cx="490.0" cy="2948.3" r="10.0"/><circle cx="578.5" cy="2948.3" r="10.0"/><circle cx="785.0" cy="2948.3" r="10.0"/><circle cx="814.5" cy="2948.3" r="10.0"/><circle cx="372.0" cy="2976.8" r="10.0"/><circle cx="401.5" cy="2976.8" r="10.0"/><circle cx="578.5" cy="2976.8" r="10.0"/><circle cx="608.0" cy="2976.8" r="10.0"/><circle cx="667.0" cy="2976.8" r="10.0"/><circle cx="755.5" cy="2976.8" r="10.0"/><circle cx="372.0" cy="3005.3" r="10.0"/><circle cx="401.5" cy="3005.3" r="10.0"/><circle cx="431.0" cy="3005.3" r="10.0"/><circle cx="460.5" cy="3005.3" r="10.0"/><circle cx="490.0" cy="3005.3" r="10.0"/><circle cx="519.5" cy="3005.3" r="10.0"/><circle cx="549.0" cy="3005.3" r="10.0"/><circle cx="696.5" cy="3005.3" r="10.0"/><circle cx="726.0" cy="3005.3" r="10.0"/><circle cx="755.5" cy="3005.3" r="10.0"/><circle cx="785.0" cy="3005.3" r="10.0"/><circle cx="814.5" cy="3005.3" r="10.0"/><circle cx="401.5" cy="3033.8" r="10.0"/><circle cx="431.0" cy="3033.8" r="10.0"/><circle cx="460.5" cy="3033.8" r="10.0"/><circle cx="490.0" cy="3033.8" r="10.0"/><circle cx="519.5" cy="3033.8" r="10.0"/><circle cx="549.0" cy="3033.8" r="10.0"/><circle cx="578.5" cy="3033.8" r="10.0"/><circle cx="608.0" cy="3033.8" r="10.0"/><circle cx="637.5" cy="3033.8" r="10.0"/><circle cx="667.0" cy="3033.8" r="10.0"/><circle cx="696.5" cy="3033.8" r="10.0"/><circle cx="726.0" cy="3033.8" r="10.0"/><circle cx="755.5" cy="3033.8" r="10.0"/><circle cx="785.0" cy="3033.8" r="10.0"/><circle cx="814.5" cy="3033.8" r="10.0"/><circle cx="401.5" cy="3062.3" r="10.0"/><circle cx="431.0" cy="3062.3" r="10.0"/><circle cx="460.5" cy="3062.3" r="10.0"/><circle cx="490.0" cy="3062.3" r="10.0"/><circle cx="519.5" cy="3062.3" r="10.0"/><circle cx="549.0" cy="3062.3" r="10.0"/><circle cx="578.5" cy="3062.3" r="10.0"/><circle cx="608.0" cy="3062.3" r="10.0"/><circle cx="637.5" cy="3062.3" r="10.0"/><circle cx="667.0" cy="3062.3" r="10.0"/><circle cx="696.5" cy="3062.3" r="10.0"/><circle cx="785.0" cy="3062.3" r="10.0"/><circle cx="814.5" cy="3062.3" r="10.0"/><circle cx="460.5" cy="3090.8" r="10.0"/><circle cx="490.0" cy="3090.8" r="10.0"/><circle cx="519.5" cy="3090.8" r="10.0"/><circle cx="578.5" cy="3090.8" r="10.0"/><circle cx="608.0" cy="3090.8" r="10.0"/><circle cx="637.5" cy="3090.8" r="10.0"/><circle cx="667.0" cy="3090.8" r="10.0"/><circle cx="755.5" cy="3090.8" r="10.0"/><circle cx="785.0" cy="3090.8" r="10.0"/></g>
<g fill="#00FA00" stroke="#17947F" stroke-width="2"><circle cx="254.0" cy="2549.3" r="10.3"/><circle cx="283.5" cy="2549.3" r="10.3"/><circle cx="313.0" cy="2549.3" r="10.3"/><circle cx="342.5" cy="2549.3" r="10.3"/><circle cx="254.0" cy="2577.8" r="10.3"/><circle cx="283.5" cy="2577.8" r="10.3"/><circle cx="313.0" cy="2577.8" r="10.3"/><circle cx="342.5" cy="2577.8" r="10.3"/><circle cx="254.0" cy="2606.3" r="10.3"/><circle cx="283.5" cy="2606.3" r="10.3"/><circle cx="313.0" cy="2606.3" r="10.3"/><circle cx="342.5" cy="2606.3" r="10.3"/><circle cx="254.0" cy="2634.8" r="10.3"/><circle cx="283.5" cy="2634.8" r="10.3"/><circle cx="313.0" cy="2634.8" r="10.3"/><circle cx="342.5" cy="2634.8" r="10.3"/><circle cx="254.0" cy="2663.3" r="10.3"/><circle cx="283.5" cy="2663.3" r="10.3"/><circle cx="313.0" cy="2663.3" r="10.3"/><circle cx="342.5" cy="2663.3" r="10.3"/><circle cx="254.0" cy="2691.8" r="10.3"/><circle cx="283.5" cy="2691.8" r="10.3"/><circle cx="313.0" cy="2691.8" r="10.3"/><circle cx="342.5" cy="2691.8" r="10.3"/><circle cx="254.0" cy="2720.3" r="10.3"/><circle cx="283.5" cy="2720.3" r="10.3"/><circle cx="313.0" cy="2720.3" r="10.3"/><circle cx="342.5" cy="2720.3" r="10.3"/><circle cx="254.0" cy="2748.8" r="10.3"/><circle cx="283.5" cy="2748.8" r="10.3"/><circle cx="313.0" cy="2748.8" r="10.3"/><circle cx="342.5" cy="2748.8" r="10.3"/><circle cx="254.0" cy="2777.3" r="10.3"/><circle cx="283.5" cy="2777.3" r="10.3"/><circle cx="313.0" cy="2777.3" r="10.3"/><circle cx="342.5" cy="2777.3" r="10.3"/><circle cx="254.0" cy="2805.8" r="10.3"/><circle cx="283.5" cy="2805.8" r="10.3"/><circle cx="313.0" cy="2805.8" r="10.3"/><circle cx="342.5" cy="2805.8" r="10.3"/><circle cx="254.0" cy="2834.3" r="10.3"/><circle cx="283.5" cy="2834.3" r="10.3"/><circle cx="313.0" cy="2834.3" r="10.3"/><circle cx="342.5" cy="2834.3" r="10.3"/><circle cx="254.0" cy="2862.8" r="10.3"/><circle cx="283.5" cy="2862.8" r="10.3"/><circle cx="313.0" cy="2862.8" r="10.3"/><circle cx="342.5" cy="2862.8" r="10.3"/><circle cx="254.0" cy="2891.3" r="10.3"/><circle cx="283.5" cy="2891.3" r="10.3"/><circle cx="313.0" cy="2891.3" r="10.3"/><circle cx="342.5" cy="2891.3" r="10.3"/><circle cx="254.0" cy="2919.8" r="10.3"/><circle cx="283.5" cy="2919.8" r="10.3"/><circle cx="313.0" cy="2919.8" r="10.3"/><circle cx="342.5" cy="2919.8" r="10.3"/><circle cx="254.0" cy="2948.3" r="10.3"/><circle cx="283.5" cy="2948.3" r="10.3"/><circle cx="313.0" cy="2948.3" r="10.3"/><circle cx="342.5" cy="2948.3" r="10.3"/><circle cx="254.0" cy="2976.8" r="10.3"/><circle cx="283.5" cy="2976.8" r="10.3"/><circle cx="313.0" cy="2976.8" r="10.3"/><circle cx="342.5" cy="2976.8" r="10.3"/><circle cx="254.0" cy="3005.3" r="10.3"/><circle cx="283.5" cy="3005.3" r="10.3"/><circle cx="313.0" cy="3005.3" r="10.3"/><circle cx="342.5" cy="3005.3" r="10.3"/><circle cx="254.0" cy="3033.8" r="10.3"/><circle cx="283.5" cy="3033.8" r="10.3"/><circle cx="313.0" cy="3033.8" r="10.3"/><circle cx="342.5" cy="3033.8" r="10.3"/><circle cx="254.0" cy="3062.3" r="10.3"/><circle cx="283.5" cy="3062.3" r="10.3"/><circle cx="313.0" cy="3062.3" r="10.3"/><circle cx="342.5" cy="3062.3" r="10.3"/><circle cx="254.0" cy="3090.8" r="10.3"/><circle cx="283.5" cy="3090.8" r="10.3"/><circle cx="313.0" cy="3090.8" r="10.3"/><circle cx="342.5" cy="3090.8" r="10.3"/></g>
<text x="36.9" y="2505.9" font-size="77.0">(d)</text>
<line x1="238.8" y1="2473.8" x2="238.8" y2="2556.0" stroke="#000" stroke-width="7.2"/>
<line x1="361.2" y1="2473.8" x2="361.2" y2="2556.0" stroke="#000" stroke-width="7.2"/>
<line x1="824.6" y1="2473.8" x2="824.6" y2="2556.0" stroke="#000" stroke-width="7.2"/>
<line x1="264.2" y1="2514.6" x2="338.1" y2="2514.6" stroke="#000" stroke-width="7.5"/>
<polygon points="245.8,2514.6 266.3,2525.3 266.3,2503.8" fill="#000"/>
<polygon points="356.5,2514.6 336.0,2525.3 336.0,2503.8" fill="#000"/>
<line x1="384.6" y1="2514.6" x2="798.8" y2="2514.6" stroke="#000" stroke-width="7.5"/>
<polygon points="366.2,2514.6 386.7,2525.3 386.7,2503.8" fill="#000"/>
<polygon points="817.2,2514.6 796.7,2525.3 796.7,2503.8" fill="#000"/>
<text x="214.8" y="2465.2" font-size="44.0" textLength="149.5" lengthAdjust="spacingAndGlyphs">0.48 µm</text>
<text x="480.4" y="2477.7" font-size="48.0" textLength="164.0" lengthAdjust="spacingAndGlyphs">1.92 µm</text>
<rect x="235.3" y="3327.0" width="589.2" height="565.3" fill="#446DD8"/>
<rect x="195.2" y="3553.2" width="42.8" height="112.4" fill="#446DD8"/>
<rect x="822.0" y="3423.5" width="53.0" height="116.7" fill="#446DD8"/>
<rect x="822.0" y="3679.5" width="53.0" height="115.5" fill="#446DD8"/>
<g fill="#fff"><circle cx="277.9" cy="3343.7" r="10.0"/><circle cx="307.3" cy="3343.7" r="10.0"/><circle cx="336.7" cy="3343.7" r="10.0"/><circle cx="454.2" cy="3343.7" r="10.0"/><circle cx="601.2" cy="3343.7" r="10.0"/><circle cx="630.6" cy="3343.7" r="10.0"/><circle cx="660.0" cy="3343.7" r="10.0"/><circle cx="748.1" cy="3343.7" r="10.0"/><circle cx="777.5" cy="3343.7" r="10.0"/><circle cx="277.9" cy="3371.7" r="10.0"/><circle cx="307.3" cy="3371.7" r="10.0"/><circle cx="336.7" cy="3371.7" r="10.0"/><circle cx="395.4" cy="3371.7" r="10.0"/><circle cx="424.8" cy="3371.7" r="10.0"/><circle cx="454.2" cy="3371.7" r="10.0"/><circle cx="601.2" cy="3371.7" r="10.0"/><circle cx="630.6" cy="3371.7" r="10.0"/><circle cx="660.0" cy="3371.7" r="10.0"/><circle cx="689.4" cy="3371.7" r="10.0"/><circle cx="777.5" cy="3371.7" r="10.0"/><circle cx="806.9" cy="3371.7" r="10.0"/><circle cx="307.3" cy="3399.7" r="10.0"/><circle cx="336.7" cy="3399.7" r="10.0"/><circle cx="395.4" cy="3399.7" r="10.0"/><circle cx="424.8" cy="3399.7" r="10.0"/><circle cx="454.2" cy="3399.7" r="10.0"/><circle cx="601.2" cy="3399.7" r="10.0"/><circle cx="630.6" cy="3399.7" r="10.0"/><circle cx="660.0" cy="3399.7" r="10.0"/><circle cx="689.4" cy="3399.7" r="10.0"/><circle cx="718.7" cy="3399.7" r="10.0"/><circle cx="748.1" cy="3399.7" r="10.0"/><circle cx="777.5" cy="3399.7" r="10.0"/><circle cx="806.9" cy="3399.7" r="10.0"/><circle cx="277.9" cy="3427.7" r="10.0"/><circle cx="307.3" cy="3427.7" r="10.0"/><circle cx="336.7" cy="3427.7" r="10.0"/><circle cx="366.1" cy="3427.7" r="10.0"/><circle cx="395.4" cy="3427.7" r="10.0"/><circle cx="424.8" cy="3427.7" r="10.0"/><circle cx="454.2" cy="3427.7" r="10.0"/><circle cx="689.4" cy="3427.7" r="10.0"/><circle cx="718.7" cy="3427.7" r="10.0"/><circle cx="748.1" cy="3427.7" r="10.0"/><circle cx="777.5" cy="3427.7" r="10.0"/><circle cx="806.9" cy="3427.7" r="10.0"/><circle cx="366.1" cy="3455.7" r="10.0"/><circle cx="395.4" cy="3455.7" r="10.0"/><circle cx="601.2" cy="3455.7" r="10.0"/><circle cx="660.0" cy="3455.7" r="10.0"/><circle cx="748.1" cy="3455.7" r="10.0"/><circle cx="248.5" cy="3483.7" r="10.0"/><circle cx="366.1" cy="3483.7" r="10.0"/><circle cx="454.2" cy="3483.7" r="10.0"/><circle cx="777.5" cy="3483.7" r="10.0"/><circle cx="806.9" cy="3483.7" r="10.0"/><circle cx="248.5" cy="3511.7" r="10.0"/><circle cx="277.9" cy="3511.7" r="10.0"/><circle cx="336.7" cy="3511.7" r="10.0"/><circle cx="366.1" cy="3511.7" r="10.0"/><circle cx="454.2" cy="3511.7" r="10.0"/><circle cx="806.9" cy="3511.7" r="10.0"/><circle cx="307.3" cy="3539.7" r="10.0"/><circle cx="336.7" cy="3539.7" r="10.0"/><circle cx="395.4" cy="3539.7" r="10.0"/><circle cx="454.2" cy="3539.7" r="10.0"/><circle cx="689.4" cy="3539.7" r="10.0"/><circle cx="366.1" cy="3567.7" r="10.0"/><circle cx="630.6" cy="3567.7" r="10.0"/><circle cx="718.7" cy="3567.7" r="10.0"/><circle cx="777.5" cy="3567.7" r="10.0"/><circle cx="395.4" cy="3595.7" r="10.0"/><circle cx="424.8" cy="3595.7" r="10.0"/><circle cx="454.2" cy="3595.7" r="10.0"/><circle cx="630.6" cy="3595.7" r="10.0"/><circle cx="660.0" cy="3595.7" r="10.0"/><circle cx="689.4" cy="3595.7" r="10.0"/><circle cx="718.7" cy="3595.7" r="10.0"/><circle cx="748.1" cy="3595.7" r="10.0"/><circle cx="777.5" cy="3595.7" r="10.0"/><circle cx="806.9" cy="3595.7" r="10.0"/><circle cx="395.4" cy="3623.7" r="10.0"/><circle cx="424.8" cy="3623.7" r="10.0"/><circle cx="454.2" cy="3623.7" r="10.0"/><circle cx="630.6" cy="3623.7" r="10.0"/><circle cx="660.0" cy="3623.7" r="10.0"/><circle cx="689.4" cy="3623.7" r="10.0"/><circle cx="718.7" cy="3623.7" r="10.0"/><circle cx="748.1" cy="3623.7" r="10.0"/><circle cx="777.5" cy="3623.7" r="10.0"/><circle cx="806.9" cy="3623.7" r="10.0"/><circle cx="366.1" cy="3651.7" r="10.0"/><circle cx="630.6" cy="3651.7" r="10.0"/><circle cx="718.7" cy="3651.7" r="10.0"/><circle cx="777.5" cy="3651.7" r="10.0"/><circle cx="307.3" cy="3679.7" r="10.0"/><circle cx="336.7" cy="3679.7" r="10.0"/><circle cx="395.4" cy="3679.7" r="10.0"/><circle cx="454.2" cy="3679.7" r="10.0"/><circle cx="689.4" cy="3679.7" r="10.0"/><circle cx="248.5" cy="3707.7" r="10.0"/><circle cx="277.9" cy="3707.7" r="10.0"/><circle cx="336.7" cy="3707.7" r="10.0"/><circle cx="366.1" cy="3707.7" r="10.0"/><circle cx="454.2" cy="3707.7" r="10.0"/><circle cx="806.9" cy="3707.7" r="10.0"/><circle cx="248.5" cy="3735.7" r="10.0"/><circle cx="366.1" cy="3735.7" r="10.0"/><circle cx="454.2" cy="3735.7" r="10.0"/><circle cx="777.5" cy="3735.7" r="10.0"/><circle cx="806.9" cy="3735.7" r="10.0"/><circle cx="366.1" cy="3763.7" r="10.0"/><circle cx="395.4" cy="3763.7" r="10.0"/><circle cx="601.2" cy="3763.7" r="10.0"/><circle cx="660.0" cy="3763.7" r="10.0"/><circle cx="748.1" cy="3763.7" r="10.0"/><circle cx="277.9" cy="3791.7" r="10.0"/><circle cx="307.3" cy="3791.7" r="10.0"/><circle cx="336.7" cy="3791.7" r="10.0"/><circle cx="366.1" cy="3791.7" r="10.0"/><circle cx="395.4" cy="3791.7" r="10.0"/><circle cx="424.8" cy="3791.7" r="10.0"/><circle cx="454.2" cy="3791.7" r="10.0"/><circle cx="689.4" cy="3791.7" r="10.0"/><circle cx="718.7" cy="3791.7" r="10.0"/><circle cx="748.1" cy="3791.7" r="10.0"/><circle cx="777.5" cy="3791.7" r="10.0"/><circle cx="806.9" cy="3791.7" r="10.0"/><circle cx="307.3" cy="3819.7" r="10.0"/><circle cx="336.7" cy="3819.7" r="10.0"/><circle cx="395.4" cy="3819.7" r="10.0"/><circle cx="424.8" cy="3819.7" r="10.0"/><circle cx="454.2" cy="3819.7" r="10.0"/><circle cx="601.2" cy="3819.7" r="10.0"/><circle cx="630.6" cy="3819.7" r="10.0"/><circle cx="660.0" cy="3819.7" r="10.0"/><circle cx="689.4" cy="3819.7" r="10.0"/><circle cx="718.7" cy="3819.7" r="10.0"/><circle cx="748.1" cy="3819.7" r="10.0"/><circle cx="777.5" cy="3819.7" r="10.0"/><circle cx="806.9" cy="3819.7" r="10.0"/><circle cx="277.9" cy="3847.7" r="10.0"/><circle cx="307.3" cy="3847.7" r="10.0"/><circle cx="336.7" cy="3847.7" r="10.0"/><circle cx="395.4" cy="3847.7" r="10.0"/><circle cx="424.8" cy="3847.7" r="10.0"/><circle cx="454.2" cy="3847.7" r="10.0"/><circle cx="601.2" cy="3847.7" r="10.0"/><circle cx="630.6" cy="3847.7" r="10.0"/><circle cx="660.0" cy="3847.7" r="10.0"/><circle cx="689.4" cy="3847.7" r="10.0"/><circle cx="777.5" cy="3847.7" r="10.0"/><circle cx="806.9" cy="3847.7" r="10.0"/><circle cx="277.9" cy="3875.7" r="10.0"/><circle cx="307.3" cy="3875.7" r="10.0"/><circle cx="336.7" cy="3875.7" r="10.0"/><circle cx="454.2" cy="3875.7" r="10.0"/><circle cx="601.2" cy="3875.7" r="10.0"/><circle cx="630.6" cy="3875.7" r="10.0"/><circle cx="660.0" cy="3875.7" r="10.0"/><circle cx="748.1" cy="3875.7" r="10.0"/><circle cx="777.5" cy="3875.7" r="10.0"/></g>
<g fill="#00FA00" stroke="#17947F" stroke-width="2"><circle cx="483.6" cy="3343.7" r="10.3"/><circle cx="513.0" cy="3343.7" r="10.3"/><circle cx="542.4" cy="3343.7" r="10.3"/><circle cx="571.8" cy="3343.7" r="10.3"/><circle cx="483.6" cy="3371.7" r="10.3"/><circle cx="513.0" cy="3371.7" r="10.3"/><circle cx="542.4" cy="3371.7" r="10.3"/><circle cx="571.8" cy="3371.7" r="10.3"/><circle cx="483.6" cy="3399.7" r="10.3"/><circle cx="513.0" cy="3399.7" r="10.3"/><circle cx="542.4" cy="3399.7" r="10.3"/><circle cx="571.8" cy="3399.7" r="10.3"/><circle cx="483.6" cy="3427.7" r="10.3"/><circle cx="513.0" cy="3427.7" r="10.3"/><circle cx="542.4" cy="3427.7" r="10.3"/><circle cx="571.8" cy="3427.7" r="10.3"/><circle cx="483.6" cy="3455.7" r="10.3"/><circle cx="513.0" cy="3455.7" r="10.3"/><circle cx="542.4" cy="3455.7" r="10.3"/><circle cx="571.8" cy="3455.7" r="10.3"/><circle cx="483.6" cy="3483.7" r="10.3"/><circle cx="513.0" cy="3483.7" r="10.3"/><circle cx="542.4" cy="3483.7" r="10.3"/><circle cx="571.8" cy="3483.7" r="10.3"/><circle cx="483.6" cy="3511.7" r="10.3"/><circle cx="513.0" cy="3511.7" r="10.3"/><circle cx="542.4" cy="3511.7" r="10.3"/><circle cx="571.8" cy="3511.7" r="10.3"/><circle cx="483.6" cy="3539.7" r="10.3"/><circle cx="513.0" cy="3539.7" r="10.3"/><circle cx="542.4" cy="3539.7" r="10.3"/><circle cx="571.8" cy="3539.7" r="10.3"/><circle cx="483.6" cy="3567.7" r="10.3"/><circle cx="513.0" cy="3567.7" r="10.3"/><circle cx="542.4" cy="3567.7" r="10.3"/><circle cx="571.8" cy="3567.7" r="10.3"/><circle cx="483.6" cy="3595.7" r="10.3"/><circle cx="513.0" cy="3595.7" r="10.3"/><circle cx="542.4" cy="3595.7" r="10.3"/><circle cx="571.8" cy="3595.7" r="10.3"/><circle cx="483.6" cy="3623.7" r="10.3"/><circle cx="513.0" cy="3623.7" r="10.3"/><circle cx="542.4" cy="3623.7" r="10.3"/><circle cx="571.8" cy="3623.7" r="10.3"/><circle cx="483.6" cy="3651.7" r="10.3"/><circle cx="513.0" cy="3651.7" r="10.3"/><circle cx="542.4" cy="3651.7" r="10.3"/><circle cx="571.8" cy="3651.7" r="10.3"/><circle cx="483.6" cy="3679.7" r="10.3"/><circle cx="513.0" cy="3679.7" r="10.3"/><circle cx="542.4" cy="3679.7" r="10.3"/><circle cx="571.8" cy="3679.7" r="10.3"/><circle cx="483.6" cy="3707.7" r="10.3"/><circle cx="513.0" cy="3707.7" r="10.3"/><circle cx="542.4" cy="3707.7" r="10.3"/><circle cx="571.8" cy="3707.7" r="10.3"/><circle cx="483.6" cy="3735.7" r="10.3"/><circle cx="513.0" cy="3735.7" r="10.3"/><circle cx="542.4" cy="3735.7" r="10.3"/><circle cx="571.8" cy="3735.7" r="10.3"/><circle cx="483.6" cy="3763.7" r="10.3"/><circle cx="513.0" cy="3763.7" r="10.3"/><circle cx="542.4" cy="3763.7" r="10.3"/><circle cx="571.8" cy="3763.7" r="10.3"/><circle cx="483.6" cy="3791.7" r="10.3"/><circle cx="513.0" cy="3791.7" r="10.3"/><circle cx="542.4" cy="3791.7" r="10.3"/><circle cx="571.8" cy="3791.7" r="10.3"/><circle cx="483.6" cy="3819.7" r="10.3"/><circle cx="513.0" cy="3819.7" r="10.3"/><circle cx="542.4" cy="3819.7" r="10.3"/><circle cx="571.8" cy="3819.7" r="10.3"/><circle cx="483.6" cy="3847.7" r="10.3"/><circle cx="513.0" cy="3847.7" r="10.3"/><circle cx="542.4" cy="3847.7" r="10.3"/><circle cx="571.8" cy="3847.7" r="10.3"/><circle cx="483.6" cy="3875.7" r="10.3"/><circle cx="513.0" cy="3875.7" r="10.3"/><circle cx="542.4" cy="3875.7" r="10.3"/><circle cx="571.8" cy="3875.7" r="10.3"/></g>
<text x="36.9" y="3280.7" font-size="77.0">(e)</text>
<line x1="237.7" y1="3271.8" x2="237.7" y2="3355.3" stroke="#000" stroke-width="7.2"/>
<line x1="462.1" y1="3271.8" x2="462.1" y2="3355.3" stroke="#000" stroke-width="7.2"/>
<line x1="592.6" y1="3271.8" x2="592.6" y2="3355.3" stroke="#000" stroke-width="7.2"/>
<line x1="824.5" y1="3271.8" x2="824.5" y2="3355.3" stroke="#000" stroke-width="7.2"/>
<line x1="262.4" y1="3312.2" x2="439.1" y2="3312.2" stroke="#000" stroke-width="7.5"/>
<polygon points="243.9,3312.2 264.4,3322.9 264.4,3301.4" fill="#000"/>
<polygon points="457.5,3312.2 437.0,3322.9 437.0,3301.4" fill="#000"/>
<line x1="486.4" y1="3312.2" x2="570.2" y2="3312.2" stroke="#000" stroke-width="7.5"/>
<polygon points="468.0,3312.2 488.5,3322.9 488.5,3301.4" fill="#000"/>
<polygon points="588.7,3312.2 568.2,3322.9 568.2,3301.4" fill="#000"/>
<line x1="613.8" y1="3312.2" x2="801.3" y2="3312.2" stroke="#000" stroke-width="7.5"/>
<polygon points="595.3,3312.2 615.8,3322.9 615.8,3301.4" fill="#000"/>
<polygon points="819.8,3312.2 799.3,3322.9 799.3,3301.4" fill="#000"/>
<text x="269.1" y="3290.1" font-size="47.0" textLength="164.0" lengthAdjust="spacingAndGlyphs">0.96 µm</text>
<text x="469.1" y="3268.0" font-size="44.0" textLength="149.5" lengthAdjust="spacingAndGlyphs">0.48 µm</text>
<text x="638.8" y="3294.4" font-size="47.0" textLength="164.3" lengthAdjust="spacingAndGlyphs">0.96 µm</text>
<clipPath id="clipf"><rect x="1242.9" y="130.7" width="644.2" height="570.2"/></clipPath>
<rect x="1242.9" y="135.2" width="644.2" height="565.7" fill="none" stroke="#222222" stroke-width="6.3"/>
<path d="M1242.9,700.9v-9.5M1242.9,135.2v9.5M1565.0,700.9v-9.5M1565.0,135.2v9.5M1887.1,700.9v-9.5M1887.1,135.2v9.5M1242.9,321.1h9.5M1887.1,321.1h-9.5M1242.9,507.1h9.5M1887.1,507.1h-9.5M1242.9,693.0h9.5M1887.1,693.0h-9.5M1242.9,181.7h5.6M1887.1,181.7h-5.6M1242.9,228.2h5.6M1887.1,228.2h-5.6M1242.9,274.7h5.6M1887.1,274.7h-5.6M1242.9,367.6h5.6M1887.1,367.6h-5.6M1242.9,414.1h5.6M1887.1,414.1h-5.6M1242.9,460.6h5.6M1887.1,460.6h-5.6M1242.9,553.6h5.6M1887.1,553.6h-5.6M1242.9,600.0h5.6M1887.1,600.0h-5.6M1242.9,646.5h5.6M1887.1,646.5h-5.6" stroke="#222222" stroke-width="4.6" fill="none"/>
<path d="M1246.8,330.4 L1248.3,321.4 L1249.7,313.9 L1251.2,307.9 L1252.7,303.3 L1254.1,300.0 L1255.6,297.8 L1257.0,296.7 L1258.5,296.4 L1327.1,296.4 L1329.4,284.4 L1331.7,274.5 L1334.0,266.5 L1336.3,260.3 L1338.6,255.8 L1340.9,253.0 L1343.2,251.5 L1345.5,251.1 L1434.5,251.1 L1436.8,243.8 L1439.1,237.8 L1441.4,232.9 L1443.8,229.2 L1446.1,226.5 L1448.4,224.7 L1450.7,223.8 L1453.0,223.6 L1541.3,223.6 L1543.3,212.9 L1545.2,204.0 L1547.2,196.8 L1549.2,191.3 L1551.1,187.3 L1553.1,184.8 L1555.0,183.4 L1557.0,183.1 L1568.2,183.1 L1569.2,179.7 L1570.3,176.9 L1571.3,174.6 L1572.3,172.8 L1573.4,171.6 L1574.4,170.7 L1575.5,170.3 L1576.5,170.2 L1890.0,170.2" fill="none" stroke="#0000FF" stroke-width="7.2" stroke-linejoin="round" stroke-linecap="butt" clip-path="url(#clipf)"/>
<path d="M1246.8,518.1 L1248.3,506.3 L1249.7,496.5 L1251.2,488.6 L1252.7,482.5 L1254.1,478.1 L1255.6,475.2 L1257.0,473.8 L1258.5,473.4 L1327.1,473.4 L1329.4,459.1 L1331.7,447.3 L1334.0,437.7 L1336.3,430.4 L1338.6,425.1 L1340.9,421.6 L1343.2,419.9 L1345.5,419.4 L1434.5,419.4 L1436.8,410.0 L1439.1,402.2 L1441.4,395.9 L1443.8,391.0 L1446.1,387.5 L1448.4,385.3 L1450.7,384.1 L1453.0,383.8 L1541.3,383.8 L1543.3,370.1 L1545.2,358.7 L1547.2,349.6 L1549.2,342.5 L1551.1,337.4 L1553.1,334.1 L1555.0,332.4 L1557.0,332.0 L1568.2,332.0 L1569.2,328.1 L1570.3,324.9 L1571.3,322.4 L1572.3,320.4 L1573.4,318.9 L1574.4,318.0 L1575.5,317.5 L1576.5,317.4 L1890.0,317.4" fill="none" stroke="#FF0000" stroke-width="7.2" stroke-linejoin="round" stroke-linecap="butt" clip-path="url(#clipf)"/>
<path d="M1246.8,699.3 L1248.3,687.9 L1249.7,678.4 L1251.2,670.8 L1252.7,665.0 L1254.1,660.7 L1255.6,658.0 L1257.0,656.6 L1258.5,656.2 L1327.1,656.2 L1329.4,638.9 L1331.7,624.6 L1334.0,613.1 L1336.3,604.2 L1338.6,597.7 L1340.9,593.6 L1343.2,591.4 L1345.5,590.9 L1434.5,590.9 L1436.8,579.3 L1439.1,569.7 L1441.4,562.0 L1443.8,556.1 L1446.1,551.8 L1448.4,549.0 L1450.7,547.6 L1453.0,547.2 L1541.3,547.2 L1543.3,529.5 L1545.2,514.8 L1547.2,502.9 L1549.2,493.8 L1551.1,487.2 L1553.1,483.0 L1555.0,480.8 L1557.0,480.2 L1568.2,480.2 L1569.2,476.5 L1570.3,473.5 L1571.3,471.0 L1572.3,469.1 L1573.4,467.8 L1574.4,466.9 L1575.5,466.4 L1576.5,466.3 L1890.0,466.3" fill="none" stroke="#00FF00" stroke-width="7.2" stroke-linejoin="round" stroke-linecap="butt" clip-path="url(#clipf)"/>
<text x="1242.9" y="764.1" font-size="51.0" text-anchor="middle" fill="#222222">0</text>
<text x="1565.0" y="764.1" font-size="51.0" text-anchor="middle" fill="#222222">1</text>
<text x="1887.1" y="764.1" font-size="51.0" text-anchor="middle" fill="#222222">2</text>
<text x="1227.7" y="152.4" font-size="51.0" text-anchor="end" fill="#222222">0</text>
<text x="1226.3" y="338.3" font-size="51.0" text-anchor="end" textLength="93.6" lengthAdjust="spacingAndGlyphs" fill="#222222">−0.2</text>
<text x="1226.3" y="524.3" font-size="51.0" text-anchor="end" textLength="93.6" lengthAdjust="spacingAndGlyphs" fill="#222222">−0.4</text>
<text x="1226.3" y="710.2" font-size="51.0" text-anchor="end" textLength="93.6" lengthAdjust="spacingAndGlyphs" fill="#222222">−0.6</text>
<text x="1565.0" y="826.5" font-size="53.5" text-anchor="middle" fill="#222222">Iterations/*60</text>
<text x="1565.0" y="117.4" font-size="54.0" text-anchor="middle">Back:20×3(60 pixels)</text>
<text x="1131.5" y="418.0" font-size="53.5" text-anchor="middle" fill="#222222" transform="rotate(-90 1131.5 418.0)">FOM</text>
<text x="1056.5" y="94.6" font-size="77.0">(f)</text>
<rect x="1603.8" y="221.8" width="197.1" height="179.1" fill="#fff" stroke="#000" stroke-width="6.6"/>
<line x1="1611.4" y1="253.2" x2="1684.7" y2="253.2" stroke="#0000FF" stroke-width="7"/>
<text x="1693.2" y="270.5" font-size="46.0" textLength="96.0" lengthAdjust="spacingAndGlyphs">1.5:1</text>
<line x1="1611.4" y1="311.5" x2="1684.7" y2="311.5" stroke="#FF0000" stroke-width="7"/>
<text x="1693.2" y="328.8" font-size="46.0" textLength="61.4" lengthAdjust="spacingAndGlyphs">2:1</text>
<line x1="1611.4" y1="369.4" x2="1684.7" y2="369.4" stroke="#00FF00" stroke-width="7.5"/>
<text x="1693.2" y="386.7" font-size="46.0" textLength="96.0" lengthAdjust="spacingAndGlyphs">2.5:1</text>
<clipPath id="clipg"><rect x="1243.3" y="915.5" width="643.5" height="569.3"/></clipPath>
<rect x="1243.3" y="920.0" width="643.5" height="564.8" fill="none" stroke="#222222" stroke-width="6.3"/>
<path d="M1243.3,1484.8v-9.5M1243.3,920.0v9.5M1565.0,1484.8v-9.5M1565.0,920.0v9.5M1886.8,1484.8v-9.5M1886.8,920.0v9.5M1243.3,1109.3h9.5M1886.8,1109.3h-9.5M1243.3,1297.9h9.5M1886.8,1297.9h-9.5M1243.3,967.9h5.6M1886.8,967.9h-5.6M1243.3,1015.1h5.6M1886.8,1015.1h-5.6M1243.3,1062.2h5.6M1886.8,1062.2h-5.6M1243.3,1109.3h5.6M1886.8,1109.3h-5.6M1243.3,1156.5h5.6M1886.8,1156.5h-5.6M1243.3,1203.6h5.6M1886.8,1203.6h-5.6M1243.3,1250.7h5.6M1886.8,1250.7h-5.6M1243.3,1297.9h5.6M1886.8,1297.9h-5.6M1243.3,1345.0h5.6M1886.8,1345.0h-5.6M1243.3,1392.2h5.6M1886.8,1392.2h-5.6M1243.3,1439.3h5.6M1886.8,1439.3h-5.6" stroke="#222222" stroke-width="4.6" fill="none"/>
<path d="M1248.8,1100.0 L1257.5,1079.6 L1262.4,1050.5 L1280.2,1048.9 L1286.6,1016.5 L1306.1,1015.9 L1317.4,969.6 L1325.5,966.3 L1335.2,928.5 L1377.2,927.5 L1385.3,922.7 L1437.1,920.1 L1456.5,920.1 L1890.0,920.0" fill="none" stroke="#0000FF" stroke-width="7.2" stroke-linejoin="round" stroke-linecap="butt" clip-path="url(#clipg)"/>
<path d="M1248.8,1279.3 L1259.1,1256.0 L1264.0,1218.8 L1270.5,1213.9 L1275.3,1207.4 L1283.4,1204.2 L1288.3,1171.8 L1307.7,1171.2 L1319.0,1110.4 L1327.1,1107.1 L1335.2,1061.8 L1375.6,1060.8 L1387.0,961.5 L1395.0,958.3 L1401.5,938.8 L1414.5,935.6 L1420.9,928.5 L1438.7,927.5 L1445.2,922.0 L1521.3,920.1 L1890.0,920.0" fill="none" stroke="#FF0000" stroke-width="7.2" stroke-linejoin="round" stroke-linecap="butt" clip-path="url(#clipg)"/>
<path d="M1248.8,1458.3 L1254.3,1456.6 L1259.1,1437.2 L1262.4,1385.4 L1270.5,1380.6 L1275.3,1367.6 L1283.4,1366.0 L1288.3,1327.2 L1307.7,1326.5 L1319.0,1252.8 L1327.1,1249.5 L1335.2,1195.1 L1375.6,1194.5 L1387.0,1066.7 L1395.0,1063.4 L1403.1,1027.8 L1412.8,1026.2 L1419.3,1018.1 L1438.7,1017.2 L1453.3,977.7 L1505.1,976.1 L1513.2,925.9 L1526.1,923.3 L1531.0,921.0 L1890.0,920.5" fill="none" stroke="#00FF00" stroke-width="7.2" stroke-linejoin="round" stroke-linecap="butt" clip-path="url(#clipg)"/>
<text x="1243.3" y="1548.0" font-size="51.0" text-anchor="middle" fill="#222222">0</text>
<text x="1565.0" y="1548.0" font-size="51.0" text-anchor="middle" fill="#222222">1</text>
<text x="1886.8" y="1548.0" font-size="51.0" text-anchor="middle" fill="#222222">2</text>
<text x="1228.1" y="938.0" font-size="51.0" text-anchor="end" fill="#222222">0</text>
<text x="1226.7" y="1126.5" font-size="51.0" text-anchor="end" textLength="93.6" lengthAdjust="spacingAndGlyphs" fill="#222222">−0.2</text>
<text x="1226.7" y="1315.1" font-size="51.0" text-anchor="end" textLength="93.6" lengthAdjust="spacingAndGlyphs" fill="#222222">−0.4</text>
<text x="1226.7" y="1503.6" font-size="51.0" text-anchor="end" textLength="93.6" lengthAdjust="spacingAndGlyphs" fill="#222222">−0.6</text>
<text x="1565.0" y="1610.4" font-size="53.5" text-anchor="middle" fill="#222222">Iterations/*100</text>
<text x="1565.0" y="902.2" font-size="54.0" text-anchor="middle">Back:20×5(100 pixels)</text>
<text x="1131.0" y="1202.4" font-size="53.5" text-anchor="middle" fill="#222222" transform="rotate(-90 1131.0 1202.4)">FOM</text>
<text x="1056.5" y="889.5" font-size="77.0">(g)</text>
<rect x="1635.3" y="967.0" width="186.0" height="160.5" fill="#fff" stroke="#000" stroke-width="5.6"/>
<line x1="1642.1" y1="995.9" x2="1716.2" y2="995.9" stroke="#0000FF" stroke-width="6"/>
<text x="1723.9" y="1013.1" font-size="44.0" textLength="86.7" lengthAdjust="spacingAndGlyphs">1.5:1</text>
<line x1="1642.1" y1="1048.2" x2="1716.2" y2="1048.2" stroke="#FF0000" stroke-width="6"/>
<text x="1723.9" y="1065.1" font-size="44.0" textLength="55.5" lengthAdjust="spacingAndGlyphs">2:1</text>
<line x1="1642.1" y1="1100.5" x2="1716.2" y2="1100.5" stroke="#00FF00" stroke-width="7"/>
<text x="1723.9" y="1116.7" font-size="44.0" textLength="86.7" lengthAdjust="spacingAndGlyphs">2.5:1</text>
<clipPath id="cliph"><rect x="1243.4" y="1710.1" width="642.9" height="569.1"/></clipPath>
<rect x="1243.4" y="1714.6" width="642.9" height="564.6" fill="none" stroke="#222222" stroke-width="6.3"/>
<path d="M1243.3,2279.2v-9.5M1243.3,1714.6v9.5M1565.0,2279.2v-9.5M1565.0,1714.6v9.5M1886.3,2279.2v-9.5M1886.3,1714.6v9.5M1243.4,1903.8h9.5M1886.3,1903.8h-9.5M1243.4,2092.4h9.5M1886.3,2092.4h-9.5M1243.4,1762.4h5.6M1886.3,1762.4h-5.6M1243.4,1809.5h5.6M1886.3,1809.5h-5.6M1243.4,1856.7h5.6M1886.3,1856.7h-5.6M1243.4,1903.8h5.6M1886.3,1903.8h-5.6M1243.4,1951.0h5.6M1886.3,1951.0h-5.6M1243.4,1998.1h5.6M1886.3,1998.1h-5.6M1243.4,2045.2h5.6M1886.3,2045.2h-5.6M1243.4,2092.4h5.6M1886.3,2092.4h-5.6M1243.4,2139.6h5.6M1886.3,2139.6h-5.6M1243.4,2186.7h5.6M1886.3,2186.7h-5.6M1243.4,2233.9h5.6M1886.3,2233.9h-5.6" stroke="#222222" stroke-width="4.6" fill="none"/>
<path d="M1244.6,2089.7 L1249.4,2083.2 L1281.8,2082.2 L1286.6,2072.8 L1310.9,2071.9 L1322.2,2059.6 L1341.7,2058.9 L1348.1,2021.7 L1359.4,2018.5 L1370.8,1969.9 L1390.2,1969.0 L1399.9,1923.0 L1445.2,1922.4 L1451.7,1914.9 L1464.6,1913.9 L1472.7,1848.6 L1527.7,1847.3 L1535.8,1827.5 L1545.5,1817.8 L1555.2,1778.0 L1566.6,1776.7 L1573.0,1772.5 L1618.3,1770.3 L1624.8,1762.8 L1630.0,1732.1 L1630.8,1732.5 L1636.5,1728.2 L1666.2,1726.8 L1673.3,1721.2 L1718.6,1719.7 L1724.3,1718.3 L1769.6,1718.3 L1888.5,1716.3" fill="none" stroke="#FF0000" stroke-width="7.2" stroke-linejoin="round" stroke-linecap="butt" clip-path="url(#cliph)"/>
<path d="M1244.6,1900.4 L1247.8,1892.3 L1281.8,1890.6 L1286.6,1880.9 L1312.5,1880.3 L1322.2,1873.8 L1341.7,1873.2 L1348.1,1842.1 L1359.4,1839.5 L1370.8,1808.1 L1390.2,1807.2 L1399.9,1770.3 L1445.2,1769.6 L1451.7,1766.1 L1464.6,1765.1 L1472.1,1730.5 L1484.0,1728.8 L1490.5,1723.3 L1630.0,1722.4 L1664.8,1718.3 L1684.6,1714.1 L1888.5,1712.7" fill="none" stroke="#0000FF" stroke-width="7.2" stroke-linejoin="round" stroke-linecap="butt" clip-path="url(#cliph)"/>
<path d="M1244.6,2275.8 L1281.8,2275.1 L1286.6,2263.5 L1307.7,2262.8 L1314.1,2238.5 L1323.9,2236.3 L1341.7,2235.6 L1348.1,2196.5 L1359.4,2194.2 L1367.5,2149.5 L1375.6,2116.5 L1387.0,2114.6 L1396.7,2031.4 L1443.6,2030.5 L1451.7,2025.0 L1461.4,2021.7 L1467.9,1916.5 L1474.3,1880.9 L1527.7,1880.3 L1535.8,1871.2 L1545.5,1858.3 L1555.2,1803.3 L1566.6,1801.7 L1573.0,1787.1 L1611.9,1785.8 L1623.2,1780.6 L1630.0,1745.0 L1629.4,1746.6 L1637.9,1741.0 L1669.0,1739.6 L1674.7,1731.1 L1718.6,1729.6 L1768.2,1729.1 L1775.2,1722.6 L1846.0,1721.7 L1851.7,1721.4 L1888.5,1721.4" fill="none" stroke="#00FF00" stroke-width="7.2" stroke-linejoin="round" stroke-linecap="butt" clip-path="url(#cliph)"/>
<text x="1243.3" y="2342.4" font-size="51.0" text-anchor="middle" fill="#222222">0</text>
<text x="1565.0" y="2342.4" font-size="51.0" text-anchor="middle" fill="#222222">1</text>
<text x="1886.3" y="2342.4" font-size="51.0" text-anchor="middle" fill="#222222">2</text>
<text x="1228.2" y="1732.4" font-size="51.0" text-anchor="end" fill="#222222">0</text>
<text x="1226.8" y="1921.0" font-size="51.0" text-anchor="end" textLength="93.6" lengthAdjust="spacingAndGlyphs" fill="#222222">−0.2</text>
<text x="1226.8" y="2109.6" font-size="51.0" text-anchor="end" textLength="93.6" lengthAdjust="spacingAndGlyphs" fill="#222222">−0.4</text>
<text x="1226.8" y="2298.2" font-size="51.0" text-anchor="end" textLength="93.6" lengthAdjust="spacingAndGlyphs" fill="#222222">−0.6</text>
<text x="1564.8" y="2404.8" font-size="53.5" text-anchor="middle" fill="#222222">Iterations/*80</text>
<text x="1564.8" y="1696.8" font-size="54.0" text-anchor="middle">Back:20×4(80 pixels)</text>
<text x="1131.0" y="1996.9" font-size="53.5" text-anchor="middle" fill="#222222" transform="rotate(-90 1131.0 1996.9)">FOM</text>
<text x="1056.5" y="1677.0" font-size="77.0">(h)</text>
<rect x="1631.4" y="1786.3" width="186.3" height="160.9" fill="#fff" stroke="#000" stroke-width="6.6"/>
<line x1="1638.7" y1="1815.5" x2="1711.5" y2="1815.5" stroke="#0000FF" stroke-width="6.5"/>
<text x="1720.0" y="1833.0" font-size="44.0" textLength="86.4" lengthAdjust="spacingAndGlyphs">1.5:1</text>
<line x1="1638.7" y1="1867.9" x2="1711.5" y2="1867.9" stroke="#FF0000" stroke-width="6.5"/>
<text x="1720.0" y="1885.4" font-size="44.0" textLength="55.3" lengthAdjust="spacingAndGlyphs">2:1</text>
<line x1="1638.7" y1="1920.8" x2="1711.5" y2="1920.8" stroke="#00FF00" stroke-width="7"/>
<text x="1720.0" y="1938.0" font-size="44.0" textLength="86.4" lengthAdjust="spacingAndGlyphs">2.5:1</text>
<clipPath id="clipi"><rect x="1256.8" y="2517.5" width="642.5" height="568.9"/></clipPath>
<rect x="1256.8" y="2522.0" width="642.5" height="564.4" fill="none" stroke="#222222" stroke-width="6.3"/>
<path d="M1256.8,3086.4v-9.5M1256.8,2522.0v9.5M1577.8,3086.4v-9.5M1577.8,2522.0v9.5M1899.3,3086.4v-9.5M1899.3,2522.0v9.5M1256.8,2634.8h9.5M1899.3,2634.8h-9.5M1256.8,2748.1h9.5M1899.3,2748.1h-9.5M1256.8,2861.3h9.5M1899.3,2861.3h-9.5M1256.8,2974.6h9.5M1899.3,2974.6h-9.5M1256.8,2544.2h5.6M1899.3,2544.2h-5.6M1256.8,2566.9h5.6M1899.3,2566.9h-5.6M1256.8,2589.5h5.6M1899.3,2589.5h-5.6M1256.8,2612.2h5.6M1899.3,2612.2h-5.6M1256.8,2657.5h5.6M1899.3,2657.5h-5.6M1256.8,2680.2h5.6M1899.3,2680.2h-5.6M1256.8,2702.8h5.6M1899.3,2702.8h-5.6M1256.8,2725.4h5.6M1899.3,2725.4h-5.6M1256.8,2770.8h5.6M1899.3,2770.8h-5.6M1256.8,2793.4h5.6M1899.3,2793.4h-5.6M1256.8,2816.0h5.6M1899.3,2816.0h-5.6M1256.8,2838.7h5.6M1899.3,2838.7h-5.6M1256.8,2884.0h5.6M1899.3,2884.0h-5.6M1256.8,2906.7h5.6M1899.3,2906.7h-5.6M1256.8,2929.3h5.6M1899.3,2929.3h-5.6M1256.8,2951.9h5.6M1899.3,2951.9h-5.6M1256.8,2997.2h5.6M1899.3,2997.2h-5.6M1256.8,3019.9h5.6M1899.3,3019.9h-5.6M1256.8,3042.6h5.6M1899.3,3042.6h-5.6M1256.8,3065.2h5.6M1899.3,3065.2h-5.6" stroke="#222222" stroke-width="4.6" fill="none"/>
<path d="M1257.8,2713.3 L1261.0,2587.1 L1265.9,2577.4 L1270.7,2572.5 L1275.6,2560.6 L1303.1,2559.6 L1308.0,2538.9 L1578.2,2537.9 L1592.8,2536.6 L1599.2,2527.5 L1903.0,2527.6" fill="none" stroke="#0000FF" stroke-width="7.2" stroke-linejoin="round" stroke-linecap="butt" clip-path="url(#clipi)"/>
<path d="M1257.8,2886.4 L1262.0,2632.4 L1275.6,2631.4 L1280.5,2614.6 L1584.7,2613.9 L1591.1,2582.2 L1903.0,2581.9" fill="none" stroke="#FF0000" stroke-width="7.2" stroke-linejoin="round" stroke-linecap="butt" clip-path="url(#clipi)"/>
<path d="M1259.4,3058.0 L1263.3,2784.5 L1275.6,2782.9 L1280.5,2760.2 L1584.7,2759.6 L1591.1,2731.1 L1903.0,2731.0" fill="none" stroke="#00FF00" stroke-width="7.2" stroke-linejoin="round" stroke-linecap="butt" clip-path="url(#clipi)"/>
<text x="1256.8" y="3149.6" font-size="51.0" text-anchor="middle" fill="#222222">0</text>
<text x="1577.8" y="3149.6" font-size="51.0" text-anchor="middle" fill="#222222">1</text>
<text x="1899.3" y="3149.6" font-size="51.0" text-anchor="middle" fill="#222222">2</text>
<text x="1241.6" y="2538.8" font-size="51.0" text-anchor="end" fill="#222222">0</text>
<text x="1240.2" y="2652.0" font-size="51.0" text-anchor="end" textLength="93.6" lengthAdjust="spacingAndGlyphs" fill="#222222">−0.1</text>
<text x="1240.2" y="2765.3" font-size="51.0" text-anchor="end" textLength="93.6" lengthAdjust="spacingAndGlyphs" fill="#222222">−0.2</text>
<text x="1240.2" y="2878.5" font-size="51.0" text-anchor="end" textLength="93.6" lengthAdjust="spacingAndGlyphs" fill="#222222">−0.3</text>
<text x="1240.2" y="2991.8" font-size="51.0" text-anchor="end" textLength="93.6" lengthAdjust="spacingAndGlyphs" fill="#222222">−0.4</text>
<text x="1240.2" y="3105.0" font-size="51.0" text-anchor="end" textLength="93.6" lengthAdjust="spacingAndGlyphs" fill="#222222">−0.5</text>
<text x="1578.0" y="3212.0" font-size="53.5" text-anchor="middle" fill="#222222">Iterations/*80</text>
<text x="1578.0" y="2504.2" font-size="54.0" text-anchor="middle">Front:20×4(80 pixels)</text>
<text x="1125.5" y="2804.2" font-size="53.5" text-anchor="middle" fill="#222222" transform="rotate(-90 1125.5 2804.2)">FOM</text>
<text x="1056.5" y="2498.8" font-size="77.0">(i)</text>
<rect x="1644.0" y="2778.8" width="186.8" height="161.9" fill="#fff" stroke="#000" stroke-width="6.8"/>
<line x1="1651.4" y1="2807.3" x2="1725.0" y2="2807.3" stroke="#0000FF" stroke-width="6.5"/>
<text x="1732.3" y="2824.8" font-size="44.0" textLength="86.8" lengthAdjust="spacingAndGlyphs">1.5:1</text>
<line x1="1651.4" y1="2859.8" x2="1725.0" y2="2859.8" stroke="#FF0000" stroke-width="6.5"/>
<text x="1732.3" y="2876.3" font-size="44.0" textLength="55.5" lengthAdjust="spacingAndGlyphs">2:1</text>
<line x1="1651.4" y1="2912.2" x2="1725.0" y2="2912.2" stroke="#00FF00" stroke-width="7"/>
<text x="1732.3" y="2928.4" font-size="44.0" textLength="86.8" lengthAdjust="spacingAndGlyphs">2.5:1</text>
<clipPath id="clipj"><rect x="1256.8" y="3310.7" width="643.5" height="568.1"/></clipPath>
<rect x="1256.8" y="3315.2" width="643.5" height="563.6" fill="none" stroke="#222222" stroke-width="6.3"/>
<path d="M1256.8,3878.8v-9.5M1256.8,3315.2v9.5M1578.0,3878.8v-9.5M1578.0,3315.2v9.5M1900.3,3878.8v-9.5M1900.3,3315.2v9.5M1256.8,3498.7h9.5M1900.3,3498.7h-9.5M1256.8,3682.1h9.5M1900.3,3682.1h-9.5M1256.8,3865.5h9.5M1900.3,3865.5h-9.5M1256.8,3361.2h5.6M1900.3,3361.2h-5.6M1256.8,3407.0h5.6M1900.3,3407.0h-5.6M1256.8,3452.9h5.6M1900.3,3452.9h-5.6M1256.8,3544.6h5.6M1900.3,3544.6h-5.6M1256.8,3590.4h5.6M1900.3,3590.4h-5.6M1256.8,3636.2h5.6M1900.3,3636.2h-5.6M1256.8,3728.0h5.6M1900.3,3728.0h-5.6M1256.8,3773.8h5.6M1900.3,3773.8h-5.6M1256.8,3819.7h5.6M1900.3,3819.7h-5.6" stroke="#222222" stroke-width="4.6" fill="none"/>
<path d="M1257.8,3877.4 L1262.7,3866.7 L1295.0,3866.1 L1299.9,3847.3 L1311.2,3846.0 L1319.3,3743.1 L1327.4,3704.2 L1343.6,3701.7 L1351.7,3676.7 L1367.8,3675.8 L1375.9,3646.0 L1395.3,3645.0 L1401.8,3620.1 L1414.8,3618.5 L1421.2,3602.3 L1430.9,3594.2 L1440.6,3593.6 L1448.7,3584.5 L1460.1,3529.5 L1469.8,3497.1 L1477.9,3396.8 L1484.3,3372.5 L1490.8,3370.3 L1553.9,3369.6 L1560.4,3364.4 L1568.5,3338.5 L1573.3,3332.1 L1903.0,3329.3" fill="none" stroke="#00FF00" stroke-width="7.2" stroke-linejoin="round" stroke-linecap="butt" clip-path="url(#clipj)"/>
<path d="M1257.8,3697.8 L1262.7,3685.5 L1295.0,3684.8 L1299.9,3669.3 L1311.2,3668.0 L1319.3,3587.7 L1327.4,3558.6 L1343.6,3556.0 L1351.7,3526.2 L1367.8,3525.3 L1375.9,3503.6 L1395.3,3502.6 L1401.8,3483.5 L1414.8,3482.2 L1424.5,3471.2 L1430.9,3468.0 L1447.1,3466.7 L1456.8,3442.1 L1469.8,3416.2 L1476.2,3354.7 L1481.1,3349.9 L1498.9,3345.0 L1508.6,3336.9 L1531.3,3336.0 L1541.0,3331.4 L1608.9,3329.5 L1903.0,3325.4" fill="none" stroke="#FF0000" stroke-width="7.2" stroke-linejoin="round" stroke-linecap="butt" clip-path="url(#clipj)"/>
<path d="M1257.8,3513.3 L1261.0,3510.7 L1295.0,3510.1 L1299.9,3497.1 L1311.2,3495.8 L1319.3,3438.9 L1327.4,3421.1 L1333.9,3414.6 L1343.6,3400.0 L1351.7,3383.9 L1367.8,3382.9 L1375.9,3365.1 L1395.3,3364.1 L1401.8,3350.8 L1422.8,3349.9 L1430.9,3345.7 L1443.9,3343.4 L1453.6,3333.7 L1495.7,3332.1 L1502.1,3324.0 L1576.6,3323.3 L1903.0,3321.2" fill="none" stroke="#0000FF" stroke-width="7.2" stroke-linejoin="round" stroke-linecap="butt" clip-path="url(#clipj)"/>
<text x="1256.8" y="3942.0" font-size="51.0" text-anchor="middle" fill="#222222">0</text>
<text x="1578.0" y="3942.0" font-size="51.0" text-anchor="middle" fill="#222222">1</text>
<text x="1900.3" y="3942.0" font-size="51.0" text-anchor="middle" fill="#222222">2</text>
<text x="1241.6" y="3332.5" font-size="51.0" text-anchor="end" fill="#222222">0</text>
<text x="1240.2" y="3515.9" font-size="51.0" text-anchor="end" textLength="93.6" lengthAdjust="spacingAndGlyphs" fill="#222222">−0.2</text>
<text x="1240.2" y="3699.3" font-size="51.0" text-anchor="end" textLength="93.6" lengthAdjust="spacingAndGlyphs" fill="#222222">−0.4</text>
<text x="1240.2" y="3882.7" font-size="51.0" text-anchor="end" textLength="93.6" lengthAdjust="spacingAndGlyphs" fill="#222222">−0.6</text>
<text x="1578.5" y="4004.4" font-size="53.5" text-anchor="middle" fill="#222222">Iterations/*80</text>
<text x="1578.5" y="3297.4" font-size="54.0" text-anchor="middle">Middle:20×4(80 pixels)</text>
<text x="1142.0" y="3597.0" font-size="53.5" text-anchor="middle" fill="#222222" transform="rotate(-90 1142.0 3597.0)">FOM</text>
<text x="1056.5" y="3274.0" font-size="77.0">(j)</text>
<rect x="1645.1" y="3387.5" width="185.7" height="160.1" fill="#fff" stroke="#000" stroke-width="6.8"/>
<line x1="1651.3" y1="3416.0" x2="1724.5" y2="3416.0" stroke="#00FF00" stroke-width="7.5"/>
<text x="1732.2" y="3433.9" font-size="44.0" textLength="87.6" lengthAdjust="spacingAndGlyphs">2.5:1</text>
<line x1="1651.3" y1="3468.3" x2="1724.5" y2="3468.3" stroke="#FF0000" stroke-width="6.5"/>
<text x="1732.2" y="3485.2" font-size="44.0" textLength="56.1" lengthAdjust="spacingAndGlyphs">2:1</text>
<line x1="1651.3" y1="3521.2" x2="1724.5" y2="3521.2" stroke="#0000FF" stroke-width="5.5"/>
<text x="1732.2" y="3537.5" font-size="44.0" textLength="87.6" lengthAdjust="spacingAndGlyphs">1.5:1</text>
</svg>
</body></html>
